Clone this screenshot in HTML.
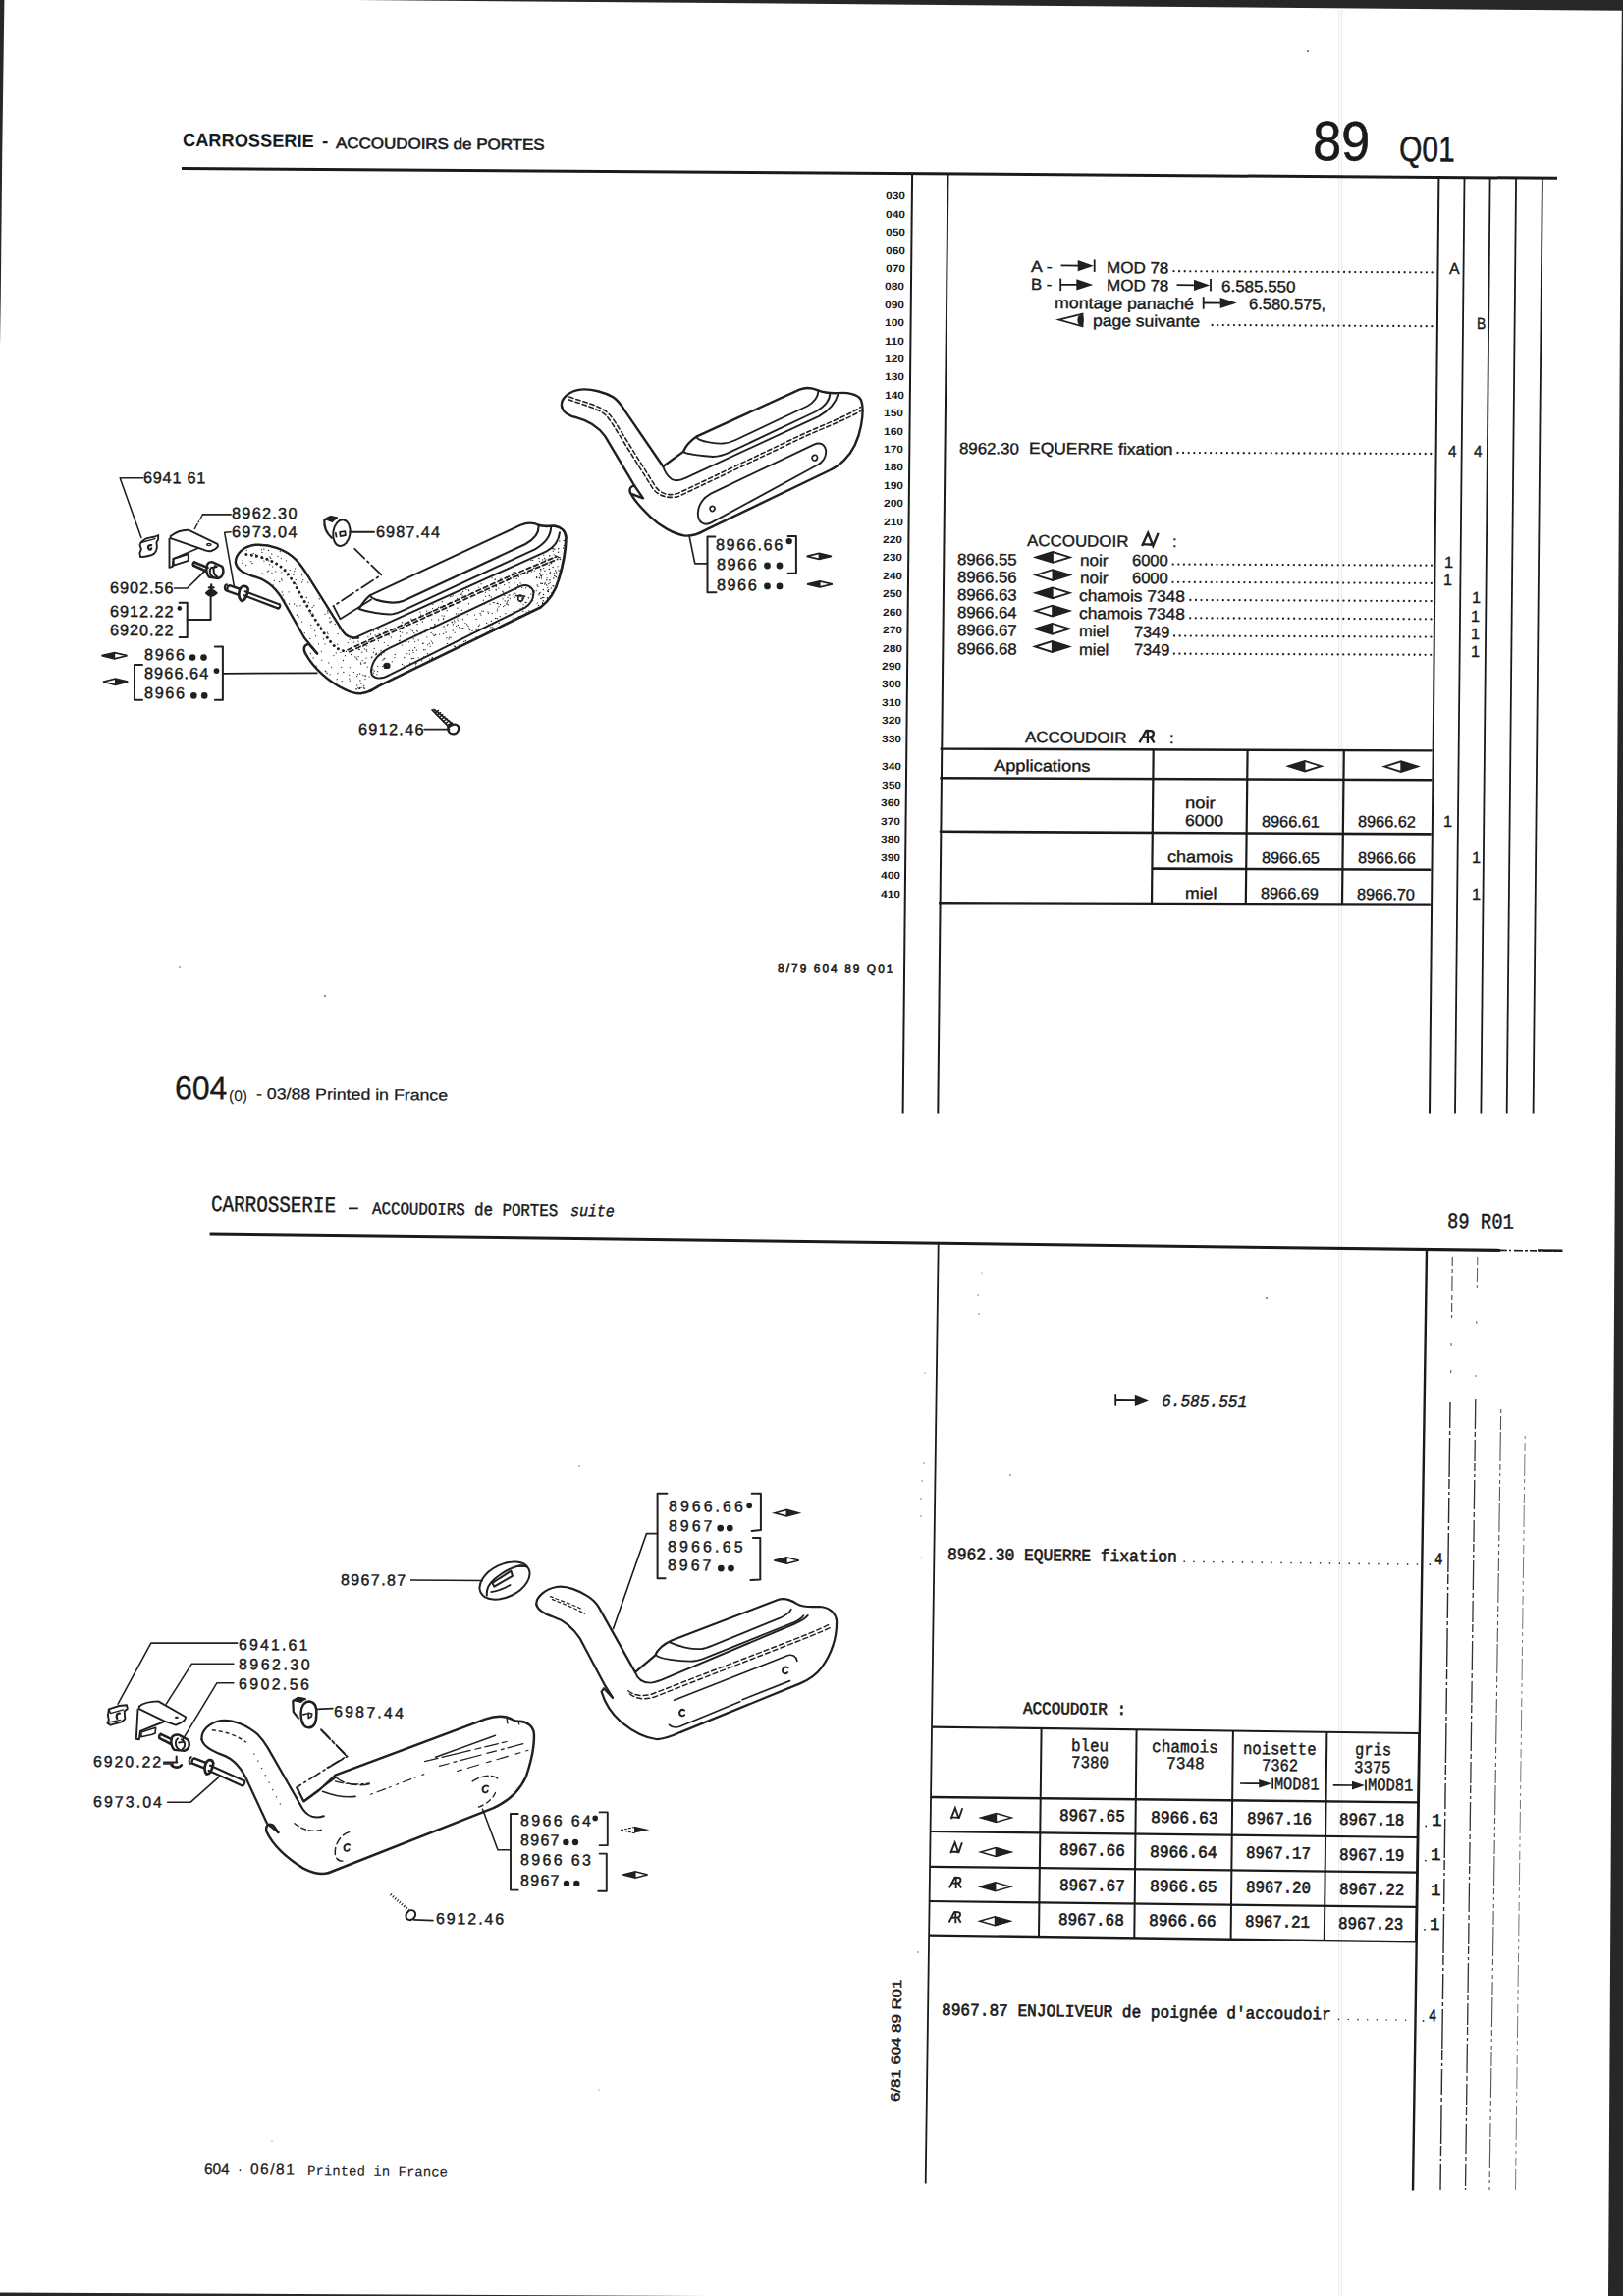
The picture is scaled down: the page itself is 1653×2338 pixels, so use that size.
<!DOCTYPE html>
<html><head><meta charset="utf-8"><title>89 Q01 / 89 R01 - CARROSSERIE - ACCOUDOIRS de PORTES</title>
<style>
html,body{margin:0;padding:0;background:#fff;}
body{width:1653px;height:2338px;position:relative;overflow:hidden;font-family:"Liberation Sans",sans-serif;color:#1a1a1a;}
.t{position:absolute;white-space:pre;line-height:1;font-family:"Liberation Sans",sans-serif;}
svg.g{position:absolute;left:0;top:0;}
</style></head><body>
<svg class="g" width="1653" height="2338" viewBox="0 0 1653 2338">
<polygon points="363,0 1653,0 1653,10.8" fill="#272727"/>
<polygon points="0,0 4.4,0 2.2,160 0.8,300 0,352" fill="#272727"/>
<polygon points="1653,0 1651.8,10.8 1644.8,1200 1638,2338 1653,2338" fill="#272727"/>
<polygon points="0,2334.5 0,2338 720,2338 400,2336.6" fill="#272727"/>
<line x1="1363.7" y1="10.0" x2="1363.7" y2="2338.0" stroke="#efefef" stroke-width="1.5" />
<line x1="1366.6" y1="10.0" x2="1366.6" y2="2338.0" stroke="#eeeeee" stroke-width="1.5" />
<circle cx="1332" cy="52" r="1.0" fill="#555"/>
<circle cx="183" cy="985" r="0.8" fill="#555"/>
<circle cx="331" cy="1014" r="0.9" fill="#555"/>
<circle cx="1290" cy="1322" r="0.9" fill="#555"/>
<circle cx="997" cy="1338" r="0.7" fill="#555"/>
<circle cx="996" cy="1319" r="0.7" fill="#555"/>
<circle cx="1000" cy="1296" r="0.6" fill="#555"/>
<circle cx="942" cy="1398" r="0.6" fill="#555"/>
<circle cx="941" cy="1490" r="0.7" fill="#555"/>
<circle cx="939" cy="1508" r="0.7" fill="#555"/>
<circle cx="938" cy="1526" r="0.7" fill="#555"/>
<circle cx="938" cy="1544" r="0.7" fill="#555"/>
<circle cx="938" cy="1586" r="0.6" fill="#555"/>
<circle cx="590" cy="1493" r="0.7" fill="#555"/>
<circle cx="1029" cy="1502" r="0.8" fill="#555"/>
<circle cx="935" cy="1988" r="0.7" fill="#555"/>
<circle cx="277" cy="2180" r="0.6" fill="#555"/>
<circle cx="610" cy="2128" r="0.6" fill="#555"/>
<line x1="185.0" y1="171.6" x2="1586.0" y2="181.3" stroke="#1a1a1a" stroke-width="3.0" />
<line x1="929.1" y1="177.0" x2="919.6" y2="1133.5" stroke="#1a1a1a" stroke-width="2.0" />
<line x1="965.5" y1="177.3" x2="955.3" y2="1133.5" stroke="#1a1a1a" stroke-width="2.0" />
<line x1="1465.4" y1="180.5" x2="1456.0" y2="1133.5" stroke="#1a1a1a" stroke-width="2.0" />
<line x1="1491.5" y1="180.7" x2="1482.0" y2="1133.5" stroke="#1a1a1a" stroke-width="1.8" />
<line x1="1517.6" y1="180.9" x2="1508.4" y2="1133.5" stroke="#1a1a1a" stroke-width="1.8" />
<line x1="1544.1" y1="181.0" x2="1534.7" y2="1133.5" stroke="#1a1a1a" stroke-width="1.8" />
<line x1="1570.9" y1="181.2" x2="1561.6" y2="1133.5" stroke="#1a1a1a" stroke-width="1.8" />
<line x1="1080.6" y1="270.4" x2="1100.7" y2="270.6" stroke="#1a1a1a" stroke-width="1.8" />
<polygon points="1097.7,265.1 1113.9,270.7 1097.7,276.3" fill="#202020"/>
<line x1="1114.7" y1="264.4" x2="1114.7" y2="276.9" stroke="#1a1a1a" stroke-width="1.8" />
<line x1="1195.5" y1="276.2" x2="1458.7" y2="277.4" stroke="#202020" stroke-width="2.3" stroke-linecap="round" stroke-dasharray="0 5.598"/>
<line x1="1080.2" y1="283.6" x2="1080.2" y2="296.1" stroke="#1a1a1a" stroke-width="1.8" />
<line x1="1080.2" y1="289.8" x2="1099.3" y2="289.9" stroke="#1a1a1a" stroke-width="1.8" />
<polygon points="1096.3,284.2 1113.3,289.9 1096.3,295.4" fill="#202020"/>
<line x1="1198.6" y1="290.1" x2="1219.0" y2="290.3" stroke="#1a1a1a" stroke-width="1.8" />
<polygon points="1216.0,284.8 1232.2,290.4 1216.0,296.0" fill="#202020"/>
<line x1="1233.0" y1="284.1" x2="1233.0" y2="296.6" stroke="#1a1a1a" stroke-width="1.8" />
<line x1="1225.7" y1="302.2" x2="1225.7" y2="314.8" stroke="#1a1a1a" stroke-width="1.8" />
<line x1="1225.7" y1="308.5" x2="1245.7" y2="308.7" stroke="#1a1a1a" stroke-width="1.8" />
<polygon points="1242.7,302.9 1259.7,308.6 1242.7,314.1" fill="#202020"/>
<path d="M1078.3,325.6 L1102.6,319.6 L1102.6,332.4 Z" fill="none" stroke="#202020" stroke-width="1.7" stroke-linejoin="miter"/>
<ellipse cx="1100.6" cy="326" rx="3.2" ry="5.2" fill="#202020"/>
<line x1="1234.6" y1="331.0" x2="1458.5" y2="332.2" stroke="#202020" stroke-width="2.3" stroke-linecap="round" stroke-dasharray="0 5.595"/>
<line x1="1199.5" y1="461.0" x2="1457.4" y2="462.0" stroke="#202020" stroke-width="2.3" stroke-linecap="round" stroke-dasharray="0 5.604"/>
<path d="M1163.1,556.1 L1169.2,542.8 L1174.4,555.7 L1179.6,542.9 M1164.5,554.1 L1173.9,554.7" fill="none" stroke="#202020" stroke-width="2.4" stroke-linejoin="miter" stroke-miterlimit="3"/>
<polygon points="1055.0,567.4 1072.3,562.0 1089.6,567.4 1072.3,572.8" fill="none" stroke="#202020" stroke-width="1.9" stroke-linejoin="miter"/>
<polygon points="1053.9,567.4 1072.9,561.6 1072.9,573.2" fill="#202020"/>
<line x1="1194.7" y1="574.6" x2="1458.1" y2="575.7" stroke="#202020" stroke-width="2.3" stroke-linecap="round" stroke-dasharray="0 5.602"/>
<polygon points="1054.8,585.6 1072.1,580.2 1089.5,585.6 1072.1,591.0" fill="none" stroke="#202020" stroke-width="1.9" stroke-linejoin="miter"/>
<polygon points="1090.6,585.6 1071.5,579.8 1071.5,591.4" fill="#202020"/>
<line x1="1194.5" y1="592.8" x2="1457.9" y2="593.9" stroke="#202020" stroke-width="2.3" stroke-linecap="round" stroke-dasharray="0 5.602"/>
<polygon points="1054.7,603.8 1072.0,598.4 1089.3,603.8 1072.0,609.2" fill="none" stroke="#202020" stroke-width="1.9" stroke-linejoin="miter"/>
<polygon points="1053.5,603.8 1072.6,598.1 1072.6,609.6" fill="#202020"/>
<line x1="1212.4" y1="611.0" x2="1457.8" y2="612.1" stroke="#202020" stroke-width="2.3" stroke-linecap="round" stroke-dasharray="0 5.575"/>
<polygon points="1054.5,622.1 1071.8,616.7 1089.1,622.1 1071.8,627.5" fill="none" stroke="#202020" stroke-width="1.9" stroke-linejoin="miter"/>
<polygon points="1090.3,622.1 1071.2,616.3 1071.2,627.8" fill="#202020"/>
<line x1="1212.2" y1="629.3" x2="1457.6" y2="630.4" stroke="#202020" stroke-width="2.3" stroke-linecap="round" stroke-dasharray="0 5.575"/>
<polygon points="1054.4,640.3 1071.7,634.9 1089.0,640.3 1071.7,645.7" fill="none" stroke="#202020" stroke-width="1.9" stroke-linejoin="miter"/>
<polygon points="1053.2,640.3 1072.3,634.5 1072.3,646.1" fill="#202020"/>
<line x1="1196.1" y1="647.5" x2="1457.5" y2="648.6" stroke="#202020" stroke-width="2.3" stroke-linecap="round" stroke-dasharray="0 5.560"/>
<polygon points="1054.2,658.5 1071.5,653.1 1088.8,658.5 1071.5,663.9" fill="none" stroke="#202020" stroke-width="1.9" stroke-linejoin="miter"/>
<polygon points="1090.0,658.5 1070.9,652.7 1070.9,664.3" fill="#202020"/>
<line x1="1195.9" y1="665.7" x2="1457.3" y2="666.8" stroke="#202020" stroke-width="2.3" stroke-linecap="round" stroke-dasharray="0 5.560"/>
<path d="M1160.4,756.3 L1167.4,743.9 L1172.4,744.1 Q1175.2,744.7 1174.8,747.3 Q1174.6,750.3 1170.9,750.6 L1164.0,750.7 M1168.9,743.9 L1168.9,757.1 M1171.8,750.6 L1175.6,756.5" fill="none" stroke="#202020" stroke-width="2.3" stroke-linejoin="round"/>
<line x1="957.6" y1="762.6" x2="1458.6" y2="764.4" stroke="#1a1a1a" stroke-width="2.4" />
<line x1="957.3" y1="792.2" x2="1458.3" y2="794.2" stroke="#1a1a1a" stroke-width="2.6" />
<line x1="956.8" y1="846.8" x2="1457.7" y2="849.4" stroke="#1a1a1a" stroke-width="2.6" />
<line x1="1173.6" y1="884.6" x2="1457.3" y2="885.8" stroke="#1a1a1a" stroke-width="2.6" />
<line x1="956.0" y1="920.2" x2="1456.9" y2="921.6" stroke="#1a1a1a" stroke-width="2.4" />
<line x1="1174.7" y1="763.0" x2="1173.0" y2="921.0" stroke="#1a1a1a" stroke-width="2.2" />
<line x1="1270.6" y1="763.5" x2="1268.8" y2="921.2" stroke="#1a1a1a" stroke-width="2.2" />
<line x1="1368.8" y1="764.0" x2="1367.0" y2="921.4" stroke="#1a1a1a" stroke-width="2.2" />
<polygon points="1312.3,780.2 1329.0,774.9 1345.6,780.2 1329.0,785.5" fill="none" stroke="#202020" stroke-width="1.9" stroke-linejoin="miter"/>
<polygon points="1311.2,780.2 1329.5,774.5 1329.5,785.9" fill="#202020"/>
<polygon points="1410.1,780.6 1426.9,775.3 1443.7,780.6 1426.9,785.9" fill="none" stroke="#202020" stroke-width="1.9" stroke-linejoin="miter"/>
<polygon points="1444.8,780.6 1426.3,774.9 1426.3,786.3" fill="#202020"/>
<line x1="213.6" y1="1256.9" x2="1528.0" y2="1273.4" stroke="#1a1a1a" stroke-width="3.0" />
<line x1="1528.0" y1="1273.4" x2="1591.3" y2="1274.2" stroke="#1a1a1a" stroke-width="1.6" stroke-dasharray="7 2 2 3 9 2 3 2"/>
<line x1="1566.0" y1="1273.4" x2="1591.3" y2="1273.7" stroke="#1a1a1a" stroke-width="2.4" />
<line x1="955.7" y1="1267.0" x2="942.7" y2="2223.6" stroke="#1a1a1a" stroke-width="1.8" />
<line x1="1453.0" y1="1273.0" x2="1439.0" y2="2230.6" stroke="#1a1a1a" stroke-width="2.4" />
<line x1="1479.3" y1="1280.0" x2="1478.5" y2="1342.0" stroke="#555" stroke-width="1.2" stroke-dasharray="9 3 4 3 16 4 5 3"/>
<line x1="1478.1" y1="1368.0" x2="1477.6" y2="1400.0" stroke="#666" stroke-width="1.2" stroke-dasharray="3 24 3 30"/>
<line x1="1477.0" y1="1428.0" x2="1467.0" y2="2230.0" stroke="#2a2a2a" stroke-width="1.4" stroke-dasharray="26 3 4 3 40 2 10 3 3 3"/>
<line x1="1504.8" y1="1280.0" x2="1504.3" y2="1312.0" stroke="#666" stroke-width="1.1" stroke-dasharray="8 3 14 4"/>
<line x1="1503.8" y1="1345.0" x2="1503.1" y2="1402.0" stroke="#777" stroke-width="1.1" stroke-dasharray="3 52 3 30"/>
<line x1="1502.8" y1="1425.0" x2="1492.5" y2="2230.0" stroke="#333" stroke-width="1.3" stroke-dasharray="30 3 5 3 22 2 8 3 3 3"/>
<line x1="1528.7" y1="1435.0" x2="1517.0" y2="2230.0" stroke="#555" stroke-width="1.1" stroke-dasharray="4 3 14 2 30 3 6 3 3 4"/>
<line x1="1553.2" y1="1462.0" x2="1543.5" y2="2230.0" stroke="#777" stroke-width="1.0" stroke-dasharray="3 4 9 3 22 3 4 4"/>
<line x1="355.0" y1="1230.3" x2="364.8" y2="1230.4" stroke="#1a1a1a" stroke-width="1.8" />
<line x1="1136.2" y1="1420.2" x2="1136.2" y2="1431.6" stroke="#1a1a1a" stroke-width="1.8" />
<line x1="1136.2" y1="1426.0" x2="1158.0" y2="1426.2" stroke="#1a1a1a" stroke-width="1.8" />
<polygon points="1155.8,1420.8 1170,1426.4 1155.8,1432" fill="#202020"/>
<line x1="1206.2" y1="1590.2" x2="1443.6" y2="1593.0" stroke="#333" stroke-width="1.7" stroke-linecap="round" stroke-dasharray="0 9.887"/>
<line x1="1456.3" y1="1593.2" x2="1456.5" y2="1593.2" stroke="#202020" stroke-width="1.8" stroke-linecap="round" stroke-dasharray="0 5.570"/>
<line x1="949.3" y1="1758.6" x2="1445.2" y2="1765.0" stroke="#1a1a1a" stroke-width="2.2" />
<line x1="948.2" y1="1830.0" x2="1444.2" y2="1835.4" stroke="#1a1a1a" stroke-width="2.4" />
<line x1="947.7" y1="1865.0" x2="1443.7" y2="1871.0" stroke="#1a1a1a" stroke-width="2.2" />
<line x1="947.2" y1="1900.9" x2="1443.2" y2="1906.6" stroke="#1a1a1a" stroke-width="2.2" />
<line x1="946.7" y1="1936.0" x2="1442.7" y2="1941.8" stroke="#1a1a1a" stroke-width="2.2" />
<line x1="946.0" y1="1970.6" x2="1442.0" y2="1977.4" stroke="#1a1a1a" stroke-width="2.4" />
<line x1="1060.6" y1="1760.0" x2="1058.0" y2="1972.0" stroke="#1a1a1a" stroke-width="2.0" />
<line x1="1157.6" y1="1761.0" x2="1155.3" y2="1973.4" stroke="#1a1a1a" stroke-width="2.0" />
<line x1="1255.9" y1="1762.4" x2="1253.6" y2="1974.8" stroke="#1a1a1a" stroke-width="2.0" />
<line x1="1351.4" y1="1763.6" x2="1348.8" y2="1976.0" stroke="#1a1a1a" stroke-width="2.0" />
<line x1="1445.2" y1="1765.0" x2="1442.0" y2="1977.4" stroke="#1a1a1a" stroke-width="2.0" />
<line x1="1263.0" y1="1816.0" x2="1284.2" y2="1816.2" stroke="#1a1a1a" stroke-width="1.7" />
<polygon points="1282.2,1812.0 1295.2,1816.3 1282.2,1820.6" fill="#202020"/>
<line x1="1296.2" y1="1810.7" x2="1296.2" y2="1821.7" stroke="#1a1a1a" stroke-width="1.7" />
<line x1="1357.8" y1="1817.8" x2="1379.0" y2="1818.0" stroke="#1a1a1a" stroke-width="1.7" />
<polygon points="1377.0,1813.8 1390.0,1818.1 1377.0,1822.4" fill="#202020"/>
<line x1="1391.0" y1="1812.5" x2="1391.0" y2="1823.5" stroke="#1a1a1a" stroke-width="1.7" />
<path d="M968.6,1852.1 L972.9,1841.1 L976.6,1851.8 L980.3,1841.2 M969.6,1850.4 L976.3,1850.9" fill="none" stroke="#202020" stroke-width="1.9" stroke-linejoin="miter" stroke-miterlimit="3"/>
<polygon points="999.0,1850.9 1014.6,1846.5 1030.1,1850.9 1014.6,1855.4" fill="none" stroke="#202020" stroke-width="1.5" stroke-linejoin="miter"/>
<polygon points="998.1,1850.9 1015.2,1846.2 1015.2,1855.7" fill="#202020"/>
<line x1="1452.2" y1="1859.5" x2="1452.4" y2="1859.5" stroke="#202020" stroke-width="1.8" stroke-linecap="round" stroke-dasharray="0 5.570"/>
<path d="M968.2,1887.2 L972.6,1876.2 L976.3,1886.9 L979.9,1876.3 M969.2,1885.5 L975.9,1886.0" fill="none" stroke="#202020" stroke-width="1.9" stroke-linejoin="miter" stroke-miterlimit="3"/>
<polygon points="998.7,1886.0 1014.2,1881.5 1029.8,1886.0 1014.2,1890.5" fill="none" stroke="#202020" stroke-width="1.5" stroke-linejoin="miter"/>
<polygon points="1030.7,1886.0 1013.6,1881.2 1013.6,1890.8" fill="#202020"/>
<line x1="1451.8" y1="1894.6" x2="1452.0" y2="1894.6" stroke="#202020" stroke-width="1.8" stroke-linecap="round" stroke-dasharray="0 5.570"/>
<path d="M967.0,1922.4 L972.5,1911.8 L976.5,1912.0 Q978.7,1912.5 978.4,1914.7 Q978.2,1917.3 975.3,1917.5 L969.9,1917.6 M973.7,1911.8 L973.7,1923.1 M976.0,1917.5 L979.0,1922.6" fill="none" stroke="#202020" stroke-width="1.9" stroke-linejoin="round"/>
<polygon points="998.3,1921.2 1013.8,1916.8 1029.4,1921.2 1013.8,1925.7" fill="none" stroke="#202020" stroke-width="1.5" stroke-linejoin="miter"/>
<polygon points="997.4,1921.2 1014.4,1916.5 1014.4,1926.0" fill="#202020"/>
<path d="M966.6,1957.5 L972.1,1946.9 L976.1,1947.1 Q978.3,1947.6 978.0,1949.8 Q977.8,1952.4 974.9,1952.6 L969.5,1952.7 M973.3,1946.9 L973.3,1958.2 M975.6,1952.6 L978.6,1957.7" fill="none" stroke="#202020" stroke-width="1.9" stroke-linejoin="round"/>
<polygon points="997.9,1956.3 1013.4,1951.9 1029.0,1956.3 1013.4,1960.8" fill="none" stroke="#202020" stroke-width="1.5" stroke-linejoin="miter"/>
<polygon points="1029.9,1956.3 1012.8,1951.6 1012.8,1961.1" fill="#202020"/>
<line x1="1451.0" y1="1964.9" x2="1451.2" y2="1964.9" stroke="#202020" stroke-width="1.8" stroke-linecap="round" stroke-dasharray="0 5.570"/>
<line x1="1363.5" y1="2056.4" x2="1431.7" y2="2057.2" stroke="#333" stroke-width="1.6" stroke-linecap="round" stroke-dasharray="0 9.729"/>
<line x1="1449.6" y1="2058.0" x2="1449.8" y2="2058.0" stroke="#202020" stroke-width="1.8" stroke-linecap="round" stroke-dasharray="0 5.570"/>
<line x1="244.5" y1="2210.2" x2="244.7" y2="2210.2" stroke="#202020" stroke-width="1.8" stroke-linecap="round" stroke-dasharray="0 5.570"/>
<path d="M 572.2 414.5 C 570.3 406.6 578.7 398.1 591.5 396.6 C 602.4 395.4 616.2 399.7 624.1 404.1 C 629.4 407.2 632.6 411.9 636.5 418.4 L 675.3 475.0 L 696.0 459.9 C 697.6 455.9 702.4 449.4 709.8 444.3 L 814.3 396.6 C 820.3 394.2 826.2 394.2 833.1 397.4 C 840.0 400.1 845.9 400.5 853.8 400.1 C 863.6 399.3 873.5 401.3 876.6 406.6 C 879.4 412.5 879.0 422.4 877.0 433.2 C 874.5 447.0 869.5 458.9 859.7 468.7 C 854.8 473.7 849.8 476.6 844.9 479.0 L 717.7 540.1 C 711.8 543.6 704.9 546.0 698.0 545.6 C 686.2 544.0 672.4 535.8 662.5 526.3 C 652.7 517.0 645.2 508.2 642.0 501.8 C 640.4 497.5 642.8 494.7 646.4 494.9" fill="none" stroke="#202020" stroke-width="2.41" stroke-linecap="round" stroke-linejoin="round" />
<path d="M 572.2 414.5 C 573.4 419.4 578.7 423.4 587.6 425.3 C 599.4 428.3 608.3 433.2 616.2 444.1 L 646.4 494.9 L 655.0 507.4 L 643.6 503.2" fill="none" stroke="#202020" stroke-width="2.41" stroke-linecap="round" stroke-linejoin="round" />
<path d="M 675.3 475.0 C 676.7 479.6 679.3 484.5 684.2 488.0 C 688.2 490.4 692.1 489.6 698.0 486.9 L 834.1 423.8 C 843.9 418.4 851.4 409.6 853.8 400.5" fill="none" stroke="#202020" stroke-width="1.9" stroke-linecap="round" stroke-linejoin="round" />
<path d="M 709.8 444.3 C 708.9 446.6 712.8 449.0 723.6 450.6 C 733.5 452.2 740.4 452.2 749.3 448.0 L 822.2 413.5 C 829.1 409.6 834.1 403.3 833.1 397.4" fill="none" stroke="#202020" stroke-width="1.9" stroke-linecap="round" stroke-linejoin="round" />
<path d="M 696.0 459.9 C 698.0 462.4 709.8 463.6 723.6 464.8 C 731.5 465.6 736.5 463.8 743.4 460.4 L 831.1 419.0 C 840.0 413.9 845.5 407.6 845.3 400.1" fill="none" stroke="#202020" stroke-width="1.9" stroke-linecap="round" stroke-linejoin="round" />
<path d="M 579.7 404.1 C 595.5 409.6 611.3 413.1 619.1 420.4 C 625.1 426.3 629.0 434.2 634.9 443.1 L 667.5 495.3 C 672.4 502.2 680.3 505.4 690.1 502.6 L 816.3 442.7 C 836.0 433.6 863.6 423.4 876.6 414.5" fill="none" stroke="#202020" stroke-width="1.57" stroke-linecap="round" stroke-linejoin="round" stroke-dasharray="4.4 3"/>
<path d="M 578.9 406.8 C 594.5 412.3 609.3 415.9 616.8 422.6 C 622.3 428.5 626.6 436.4 632.2 445.1 L 664.9 497.5 C 670.4 505.0 680.7 508.2 691.3 505.4 L 817.5 445.5 C 837.2 436.4 864.8 426.1 877.4 417.9" fill="none" stroke="#202020" stroke-width="1.57" stroke-linecap="round" stroke-linejoin="round" stroke-dasharray="4.4 3"/>
<path d="M 710.8 522.4 C 711.4 514.1 715.8 507.2 724.0 502.6 L 829.1 452.6 C 835.0 450.0 840.0 452.0 841.2 458.9 C 841.5 465.8 838.0 470.7 832.5 473.5 L 724.6 532.2 C 717.7 535.8 710.8 532.8 710.8 522.4 Z" fill="none" stroke="#202020" stroke-width="1.9" stroke-linecap="round" stroke-linejoin="round" />
<path d="M 722.9 518.0 C 723.2 515.1 727.2 514.1 728.0 517.2 C 728.4 520.4 724.4 522.4 722.9 518.0 Z" fill="none" stroke="#202020" stroke-width="1.68" stroke-linecap="round" stroke-linejoin="round" />
<path d="M 827.0 466.4 C 827.4 462.8 831.7 462.0 832.5 465.6 C 832.9 469.1 828.1 470.7 827.0 466.4 Z" fill="none" stroke="#202020" stroke-width="1.68" stroke-linecap="round" stroke-linejoin="round" />
<path d="M 240.0 573.1 C 239.5 564.5 247.9 555.8 260.2 554.8 C 275.0 553.9 291.0 559.5 300.9 569.4 C 308.3 576.8 312.0 584.2 316.9 591.6 L 348.9 642.6 C 352.6 648.3 358.8 650.0 364.9 649.5" fill="none" stroke="#202020" stroke-width="2.41" stroke-linecap="round" stroke-linejoin="round" />
<path d="M 240.0 573.1 C 241.0 580.0 250.3 584.9 261.4 587.9 C 273.8 591.6 282.4 600.2 289.8 613.8 L 310.0 649.5 L 323.0 665.5" fill="none" stroke="#202020" stroke-width="2.41" stroke-linecap="round" stroke-linejoin="round" />
<path d="M 323.0 665.5 L 314.4 655.7 C 309.5 656.9 308.3 660.6 311.5 666.2 C 319.3 680.3 334.1 693.9 351.4 702.2 C 357.5 705.4 362.5 706.4 367.4 706.2 C 371.1 705.7 374.8 704.7 378.5 703.2" fill="none" stroke="#202020" stroke-width="2.46" stroke-linecap="round" stroke-linejoin="round" />
<path d="M 250.8 564.5 C 267.6 566.2 282.4 571.9 292.2 582.9 C 299.6 592.8 305.8 605.1 314.4 619.9 C 321.8 632.2 329.2 644.6 337.8 654.9 C 342.8 660.6 346.5 663.0 353.9 663.0" fill="none" stroke="#202020" stroke-width="2.91" stroke-linecap="round" stroke-linejoin="round" stroke-dasharray="0.1 5.3"/>
<path d="M 360.0 650.1 L 556.7 561.4 C 564.8 557.0 569.2 550.3 570.0 542.2" fill="none" stroke="#202020" stroke-width="2.02" stroke-linecap="round" stroke-linejoin="round" />
<path d="M 377.0 606.1 L 530.1 534.8 C 536.7 532.1 544.1 532.4 548.5 534.8 C 549.3 542.2 544.8 548.8 535.2 554.0 L 411.0 611.7 C 404.4 614.6 394.0 613.8 383.7 610.9 C 380.0 609.6 377.4 608.0 377.0 606.1 Z" fill="none" stroke="#202020" stroke-width="2.13" stroke-linecap="round" stroke-linejoin="round" />
<path d="M 377.0 606.1 C 372.6 609.5 368.9 614.6 365.6 620.0 C 374.8 623.2 389.6 625.9 399.9 625.3 C 404.4 624.7 407.3 623.2 411.0 621.4 L 544.8 559.3 C 555.2 553.3 560.8 545.1 561.1 537.2" fill="none" stroke="#202020" stroke-width="2.02" stroke-linecap="round" stroke-linejoin="round" />
<path d="M 548.5 534.8 C 553.7 536.6 559.6 535.4 564.8 535.7 C 571.5 536.6 576.2 540.7 576.5 547.4 C 576.2 559.9 573.7 574.7 569.2 589.5 C 566.3 599.9 561.1 610.2 550.8 618.3 L 385.1 698.9 C 382.2 700.7 380.0 702.2 376.6 703.4" fill="none" stroke="#202020" stroke-width="2.69" stroke-linecap="round" stroke-linejoin="round" />
<path d="M 378.0 683.4 C 378.9 673.8 385.1 665.7 396.2 660.2 L 530.1 596.9 C 536.7 594.2 543.1 597.6 543.4 604.3 C 543.1 610.9 539.7 615.8 534.5 618.8 L 397.0 687.1 C 389.6 691.5 378.5 693.0 378.0 683.4 Z" fill="none" stroke="#202020" stroke-width="2.02" stroke-linecap="round" stroke-linejoin="round" />
<ellipse cx="394.0" cy="677.9" rx="3.6" ry="3.2" fill="#202020"/>
<path d="M 527.8 607.2 C 530.1 605.0 533.8 606.5 533.0 609.5 C 532.3 612.4 528.6 613.2 527.8 610.2 Z M 525.6 606.5 L 534.5 607.2" fill="none" stroke="#202020" stroke-width="1.68" stroke-linecap="round" stroke-linejoin="round" />
<path d="M 354.1 661.7 L 522.7 585.1 L 567.0 566.6" fill="none" stroke="#202020" stroke-width="1.79" stroke-linecap="round" stroke-linejoin="round" stroke-dasharray="4.5 3.5"/>
<path d="M 355.6 663.7 L 523.4 587.7 L 567.8 569.4" fill="none" stroke="#202020" stroke-width="1.79" stroke-linecap="round" stroke-linejoin="round" stroke-dasharray="4.5 3.5"/>
<path d="M 361.2 558.8 L 388.4 585.4 L 339.6 617.0" fill="none" stroke="#202020" stroke-width="1.79" stroke-linecap="round" stroke-linejoin="round" stroke-dasharray="14 4 2 4"/>
<path d="M 339.6 617.0 L 346.5 630.3 L 378.0 610.5" fill="none" stroke="#202020" stroke-width="1.79" stroke-linecap="round" stroke-linejoin="round" />
<circle cx="182.8" cy="619.4" r="2.3" fill="#202020"/>
<circle cx="196.1" cy="669.6" r="3.3" fill="#202020"/>
<circle cx="207.5" cy="669.6" r="3.3" fill="#202020"/>
<circle cx="220.5" cy="683.1" r="2.9" fill="#202020"/>
<circle cx="197.3" cy="708.4" r="3.3" fill="#202020"/>
<circle cx="208.2" cy="708.4" r="3.3" fill="#202020"/>
<circle cx="803.7" cy="551.1" r="3.2" fill="#202020"/>
<circle cx="781.5" cy="576.0" r="3.4" fill="#202020"/>
<circle cx="794.0" cy="576.0" r="3.4" fill="#202020"/>
<circle cx="781.5" cy="596.9" r="3.4" fill="#202020"/>
<circle cx="794.0" cy="596.9" r="3.4" fill="#202020"/>
<path d="M 728.3 546.6 L 720.5 546.6 L 720.5 603.2 L 729.4 603.2" fill="none" stroke="#202020" stroke-width="2.02" stroke-linecap="round" stroke-linejoin="round" />
<path d="M 802.6 546.1 L 810.9 546.1 L 810.9 583.8 L 802.6 583.8" fill="none" stroke="#202020" stroke-width="2.02" stroke-linecap="round" stroke-linejoin="round" />
<path d="M 702.2 546.6 L 707.8 573.8 L 720.5 573.8" fill="none" stroke="#202020" stroke-width="1.68" stroke-linecap="round" stroke-linejoin="round" />
<polygon points="821.7,566.4 834.2,563.4 846.7,566.4 834.2,569.4" fill="none" stroke="#202020" stroke-width="1.7" stroke-linejoin="miter"/>
<polygon points="847.8,566.4 833.6,563.0 833.6,569.8" fill="#202020"/>
<polygon points="822.2,594.9 835.0,591.9 847.8,594.9 835.0,597.9" fill="none" stroke="#202020" stroke-width="1.7" stroke-linejoin="miter"/>
<polygon points="821.1,594.9 835.6,591.5 835.6,598.3" fill="#202020"/>
<path d="M 218.9 658.5 L 226.9 658.5 L 226.9 712.7 L 218.9 712.7" fill="none" stroke="#202020" stroke-width="2.02" stroke-linecap="round" stroke-linejoin="round" />
<path d="M 145.0 677.0 L 137.0 677.0 L 137.0 712.7 L 145.0 712.7" fill="none" stroke="#202020" stroke-width="2.02" stroke-linecap="round" stroke-linejoin="round" />
<line x1="227.5" y1="685.8" x2="323.5" y2="685.3" stroke="#1a1a1a" stroke-width="1.7" />
<path d="M 182.6 613.8 L 190.7 613.8 L 190.7 649.0 L 182.6 649.0" fill="none" stroke="#202020" stroke-width="2.02" stroke-linecap="round" stroke-linejoin="round" />
<path d="M 190.7 631.0 L 214.6 631.0 L 214.6 608.1" fill="none" stroke="#202020" stroke-width="2.02" stroke-linecap="round" stroke-linejoin="round" />
<path d="M 145.6 486.8 L 122.2 486.8 L 143.9 547.5" fill="none" stroke="#202020" stroke-width="1.57" stroke-linecap="round" stroke-linejoin="round" />
<path d="M 235.1 523.8 L 206.5 523.8" fill="none" stroke="#202020" stroke-width="1.68" stroke-linecap="round" stroke-linejoin="round" />
<path d="M 206.5 523.8 L 197.6 539.8" fill="none" stroke="#202020" stroke-width="1.34" stroke-linecap="round" stroke-linejoin="round" stroke-dasharray="6 2 1 2"/>
<path d="M 235.1 541.8 L 228.7 542.3 L 238.5 597.7" fill="none" stroke="#202020" stroke-width="1.57" stroke-linecap="round" stroke-linejoin="round" />
<path d="M 356.3 541.8 L 381.0 541.8" fill="none" stroke="#202020" stroke-width="1.9" stroke-linecap="round" stroke-linejoin="round" />
<path d="M 177.6 599.0 L 190.7 599.0 L 208.4 581.7" fill="none" stroke="#202020" stroke-width="1.68" stroke-linecap="round" stroke-linejoin="round" />
<path d="M 432.2 742.6 L 457.4 742.6" fill="none" stroke="#202020" stroke-width="1.9" stroke-linecap="round" stroke-linejoin="round" />
<polygon points="103.7,667.7 116.6,664.6 129.5,667.7 116.6,670.9" fill="none" stroke="#202020" stroke-width="1.7" stroke-linejoin="miter"/>
<polygon points="102.6,667.7 117.2,664.2 117.2,671.2" fill="#202020"/>
<polygon points="105.0,694.2 117.5,691.1 130.1,694.2 117.5,697.4" fill="none" stroke="#202020" stroke-width="1.7" stroke-linejoin="miter"/>
<polygon points="131.2,694.2 117.0,690.7 117.0,697.7" fill="#202020"/>
<path d="M 142.5 554.8 C 143.1 551.4 147.4 548.3 153.0 547.4 L 157.9 546.5 L 161.2 545.0 L 161.1 549.6 L 159.4 552.3 C 160.4 557.0 159.8 561.3 156.9 563.9 C 153.0 566.2 148.1 566.8 143.1 567.1 L 142.4 563.1 L 143.9 559.4 Z" fill="none" stroke="#202020" stroke-width="1.9" stroke-linecap="round" stroke-linejoin="round" />
<path d="M 154.2 555.1 C 151.1 554.5 149.9 557.6 151.8 559.2 C 153.0 560.0 154.2 559.2 154.2 558.4" fill="none" stroke="#202020" stroke-width="2.24" stroke-linecap="round" stroke-linejoin="round" />
<path d="M 144.4 552.3 L 157.9 548.6" fill="none" stroke="#202020" stroke-width="1.46" stroke-linecap="round" stroke-linejoin="round" />
<path d="M 173.7 545.9 C 178.9 541.9 186.3 539.5 191.8 539.7 L 221.4 553.9 C 223.0 556.0 221.4 558.8 215.2 561.0 C 212.1 561.7 209.7 560.7 207.2 559.7 L 173.7 548.1 Z" fill="none" stroke="#202020" stroke-width="1.9" stroke-linecap="round" stroke-linejoin="round" />
<path d="M 172.5 548.6 L 172.5 577.9 L 175.7 576.9 L 176.4 569.0 L 191.8 564.1 L 191.8 570.8 L 177.0 575.7 L 176.6 569.3" fill="none" stroke="#202020" stroke-width="1.9" stroke-linecap="round" stroke-linejoin="round" />
<path d="M 176.4 569.0 L 202.3 558.0" fill="none" stroke="#202020" stroke-width="1.79" stroke-linecap="round" stroke-linejoin="round" />
<ellipse cx="212.8" cy="554.5" rx="2.2" ry="1.1" fill="none" stroke="#202020" stroke-width="1.3"/>
<path d="M 198.0 572.4 L 211.5 577.9 M 197.1 575.7 L 209.7 581.4" fill="none" stroke="#202020" stroke-width="2.69" stroke-linecap="round" stroke-linejoin="round" />
<path d="M 198.0 572.4 C 196.4 573.0 196.1 574.8 197.1 575.7" fill="none" stroke="#202020" stroke-width="2.24" stroke-linecap="round" stroke-linejoin="round" />
<path d="M 211.5 574.2 C 209.7 577.9 209.7 584.1 212.8 587.5 L 222.0 589.0 C 226.9 588.4 228.8 581.6 226.3 576.9 L 216.5 572.4 C 214.0 571.8 212.4 572.7 211.5 574.2 Z" fill="none" stroke="#202020" stroke-width="2.46" stroke-linecap="round" stroke-linejoin="round" />
<path d="M 215.2 577.9 C 212.8 580.4 213.4 585.3 216.5 587.2 M 218.9 576.1 C 216.5 579.1 217.1 585.3 221.4 587.5 M 215.8 577.9 L 220.8 576.9" fill="none" stroke="#202020" stroke-width="2.02" stroke-linecap="round" stroke-linejoin="round" />
<path d="M 215.2 595.4 L 215.2 600.1 M 212.8 598.3 L 217.7 598.3" fill="none" stroke="#202020" stroke-width="2.24" stroke-linecap="round" stroke-linejoin="round" />
<path d="M 209.7 604.0 C 211.5 601.9 213.4 600.7 215.2 600.3 C 217.1 600.7 219.3 601.9 221.0 604.0 C 218.9 606.0 217.1 607.0 215.2 607.2 C 213.4 607.0 211.5 606.0 209.7 604.0 Z" fill="#202020" stroke="#202020" stroke-width="1.68" stroke-linecap="round" stroke-linejoin="round" />
<path d="M 230.9 595.2 C 228.2 595.8 228.2 600.7 230.4 601.6" fill="none" stroke="#202020" stroke-width="2.02" stroke-linecap="round" stroke-linejoin="round" />
<path d="M 233.7 596.2 L 243.6 599.5 M 231.9 601.9 L 241.7 605.3 M 233.7 596.2 C 231.2 596.6 230.6 600.7 231.9 601.9" fill="none" stroke="#202020" stroke-width="2.46" stroke-linecap="round" stroke-linejoin="round" />
<path d="M 247.3 597.0 C 242.9 598.9 241.7 608.7 246.0 611.8 C 249.7 611.8 252.2 605.0 252.8 600.1 C 252.2 597.4 249.7 596.4 247.3 597.0 Z" fill="none" stroke="#202020" stroke-width="2.69" stroke-linecap="round" stroke-linejoin="round" />
<path d="M 249.7 602.3 L 284.8 615.5 M 248.5 606.3 L 283.6 619.6 M 284.8 615.5 C 285.8 616.7 285.1 618.8 283.6 619.6" fill="none" stroke="#202020" stroke-width="2.24" stroke-linecap="round" stroke-linejoin="round" />
<ellipse cx="347.9" cy="542.7" rx="8.6" ry="13.4" transform="rotate(8 347.9 542.7)" fill="none" stroke="#202020" stroke-width="2.0"/>
<path d="M 330.4 529.3 C 329.9 534.6 331.5 541.9 337.8 547.7 M 330.4 529.3 L 336.7 526.0 L 343.0 527.4" fill="none" stroke="#202020" stroke-width="2.24" stroke-linecap="round" stroke-linejoin="round" />
<path d="M 331.5 528.8 L 337.0 526.0 L 342.7 527.8 L 338.3 531.4 Z" fill="#202020" stroke="#202020" stroke-width="1.12" stroke-linecap="round" stroke-linejoin="round" />
<path d="M 341.9 542.9 L 342.5 546.6 M 346.1 541.9 L 351.4 541.1 L 351.9 545.0 L 346.7 546.1 Z" fill="none" stroke="#202020" stroke-width="1.79" stroke-linecap="round" stroke-linejoin="round" />
<path d="M 440.1 722.8 L 456.5 739.6 M 442.1 722.4 L 460.4 736.6" fill="none" stroke="#202020" stroke-width="1.79" stroke-linecap="round" stroke-linejoin="round" />
<path d="M 443.2 725.9 L 446.4 723.6" fill="none" stroke="#202020" stroke-width="1.57" stroke-linecap="round" stroke-linejoin="round" />
<path d="M 445.4 728.0 L 448.6 725.7" fill="none" stroke="#202020" stroke-width="1.57" stroke-linecap="round" stroke-linejoin="round" />
<path d="M 447.6 730.1 L 450.7 727.7" fill="none" stroke="#202020" stroke-width="1.57" stroke-linecap="round" stroke-linejoin="round" />
<path d="M 449.8 732.2 L 452.9 729.8" fill="none" stroke="#202020" stroke-width="1.57" stroke-linecap="round" stroke-linejoin="round" />
<path d="M 451.9 734.2 L 455.1 731.9" fill="none" stroke="#202020" stroke-width="1.57" stroke-linecap="round" stroke-linejoin="round" />
<path d="M 454.1 736.3 L 457.2 733.9" fill="none" stroke="#202020" stroke-width="1.57" stroke-linecap="round" stroke-linejoin="round" />
<path d="M 456.3 738.4 L 459.4 736.0" fill="none" stroke="#202020" stroke-width="1.57" stroke-linecap="round" stroke-linejoin="round" />
<path d="M 456.5 740.9 C 455.5 744.5 458.4 748.0 462.4 747.4 C 466.9 746.5 468.3 741.5 466.3 739.0 C 464.3 736.6 458.4 737.6 456.5 740.9 Z" fill="none" stroke="#202020" stroke-width="2.24" stroke-linecap="round" stroke-linejoin="round" />
<path d="M 460.4 736.6 C 457.4 737.6 456.1 739.6 456.5 740.9" fill="none" stroke="#202020" stroke-width="2.02" stroke-linecap="round" stroke-linejoin="round" />
<path d="M279.4,591.3h.01M332.1,683.9h.01M316.4,665.4h.01M349.5,643.5h.01M285.3,561.6h.01M343.9,685.5h.01M343.3,691.7h.01M314.2,613.5h.01M363.3,701.9h.01M363.8,698.0h.01M283.0,566.3h.01M362.9,701.7h.01M300.6,579.1h.01M366.7,700.4h.01M286.4,568.3h.01M307.6,633.1h.01M333.4,644.1h.01M321.5,647.7h.01M331.1,625.2h.01M342.3,664.9h.01M294.1,602.8h.01M322.9,664.5h.01M286.5,589.6h.01M288.2,605.8h.01M274.6,574.7h.01M356.3,679.6h.01M356.3,650.9h.01M301.9,616.9h.01M366.6,701.3h.01M347.7,679.3h.01M336.1,632.9h.01M274.9,567.0h.01M369.9,658.5h.01M372.7,688.1h.01M336.1,633.8h.01M292.4,585.9h.01M372.4,674.9h.01M331.3,683.1h.01M302.4,626.2h.01M250.6,575.6h.01M260.5,567.1h.01M379.9,681.9h.01M287.3,603.0h.01M325.4,609.8h.01M355.5,648.1h.01M303.6,611.5h.01M307.7,592.9h.01M318.2,658.7h.01M369.1,672.7h.01M336.0,686.8h.01M354.3,654.6h.01M346.0,639.5h.01M255.8,571.6h.01M337.6,679.3h.01M348.2,693.7h.01M322.2,678.1h.01M277.0,583.3h.01M294.6,615.0h.01M340.0,667.6h.01M337.6,632.6h.01M287.2,591.0h.01M273.5,560.4h.01M310.3,613.0h.01M310.3,644.6h.01M308.6,590.6h.01M363.6,688.6h.01M324.5,655.8h.01M304.2,628.1h.01M351.5,667.7h.01M334.8,674.9h.01M312.3,608.5h.01M343.8,656.2h.01M333.6,649.3h.01M326.9,638.2h.01M333.9,624.0h.01M286.8,582.8h.01M313.8,593.2h.01M319.0,669.9h.01M256.9,573.5h.01M352.4,663.4h.01M268.9,584.7h.01M357.5,666.5h.01M298.9,585.4h.01M317.1,640.1h.01M271.3,593.6h.01M355.8,687.3h.01M320.6,642.3h.01M327.4,663.3h.01M335.9,629.0h.01M316.5,624.4h.01M333.7,622.0h.01M354.3,648.2h.01M275.7,568.4h.01M373.2,661.7h.01M356.3,693.2h.01M258.3,563.3h.01M341.2,635.6h.01M307.6,585.6h.01M272.3,582.0h.01M299.7,581.7h.01M246.8,573.2h.01M251.3,560.3h.01M305.9,616.7h.01M299.6,615.0h.01M273.7,570.8h.01M260.4,564.7h.01M278.1,595.9h.01M357.4,649.0h.01M291.4,570.8h.01M247.2,570.3h.01M266.9,562.4h.01M355.8,691.1h.01M346.9,664.3h.01M301.2,590.6h.01M280.8,581.9h.01M344.2,645.6h.01M333.2,685.5h.01M368.9,664.2h.01M289.8,611.2h.01M276.8,564.2h.01M327.8,672.3h.01M267.9,568.6h.01M329.4,650.9h.01M349.9,684.5h.01M318.7,624.9h.01M334.0,645.6h.01M273.6,581.2h.01M373.7,663.2h.01M365.8,701.3h.01M318.2,618.3h.01M376.1,689.1h.01M268.9,571.1h.01M315.9,650.5h.01M380.6,685.1h.01M295.3,580.6h.01M316.8,636.3h.01M367.5,675.0h.01M284.7,592.5h.01M268.9,559.0h.01M303.7,606.5h.01M301.7,595.1h.01M331.1,655.8h.01M371.1,675.2h.01M277.7,576.9h.01M349.5,672.5h.01M320.5,597.9h.01M266.6,559.6h.01M301.2,632.8h.01M266.9,583.8h.01M319.8,616.7h.01" stroke="#202020" stroke-width="1.3" stroke-linecap="round" fill="none"/>
<path d="M553.8,565.2h.01M477.0,637.7h.01M360.4,684.6h.01M552.3,594.4h.01M424.8,642.3h.01M360.7,654.1h.01M536.1,623.1h.01M427.9,623.1h.01M569.8,551.0h.01M363.9,671.4h.01M438.8,638.5h.01M402.3,666.4h.01M383.2,665.2h.01M367.9,696.3h.01M458.0,613.8h.01M372.0,691.6h.01M392.1,680.4h.01M437.7,671.1h.01M438.2,658.3h.01M499.8,638.8h.01M413.9,653.1h.01M434.8,648.8h.01M471.5,630.7h.01M395.8,679.1h.01M503.2,613.6h.01M454.9,649.7h.01M407.1,655.4h.01M460.1,607.2h.01M491.6,640.3h.01M384.8,678.3h.01M477.3,600.8h.01M536.1,613.4h.01M488.2,636.2h.01M490.9,602.7h.01M440.9,615.3h.01M386.2,645.3h.01M528.2,586.0h.01M490.8,622.1h.01M498.7,642.5h.01M523.6,594.7h.01M474.8,600.3h.01M423.9,630.8h.01M363.1,669.9h.01M452.0,638.0h.01M543.3,578.3h.01M423.8,678.1h.01M374.2,679.1h.01M509.5,615.5h.01M421.6,670.3h.01M555.9,569.8h.01M462.9,633.8h.01M393.0,639.6h.01M409.5,676.4h.01M365.5,661.2h.01M541.2,581.9h.01M392.2,643.5h.01M549.0,568.5h.01M489.1,624.5h.01M372.0,657.2h.01M392.5,646.8h.01M479.4,645.1h.01M416.6,634.2h.01M414.7,665.6h.01M378.3,652.6h.01M429.6,672.8h.01M366.3,661.5h.01M494.4,603.2h.01M492.1,602.3h.01M533.1,615.6h.01M487.5,637.6h.01M519.3,609.6h.01M493.3,614.9h.01M549.4,571.3h.01M366.9,693.0h.01M385.4,652.6h.01M422.6,653.6h.01M499.0,615.2h.01M373.1,670.1h.01M471.7,602.5h.01M368.1,700.4h.01M446.6,631.0h.01M544.3,581.1h.01M464.7,637.3h.01M441.0,645.8h.01M537.8,582.6h.01M378.9,669.0h.01M536.3,596.6h.01M452.2,638.2h.01M417.6,675.2h.01M416.5,653.8h.01M512.6,617.6h.01M453.4,616.9h.01M535.2,613.4h.01M371.3,701.4h.01M481.0,603.6h.01M521.6,585.4h.01M381.2,660.4h.01M553.7,578.7h.01M531.5,598.4h.01M470.1,639.8h.01M462.4,658.1h.01M438.1,640.8h.01M506.2,629.6h.01M513.7,595.7h.01M559.9,590.6h.01M552.8,585.0h.01M508.2,634.5h.01M513.9,606.3h.01M550.8,580.9h.01M396.0,647.0h.01M524.9,582.7h.01M516.6,613.0h.01M451.5,630.6h.01M554.7,595.0h.01M420.4,642.7h.01M568.0,576.8h.01M481.0,642.4h.01M409.3,657.1h.01M392.7,644.3h.01M382.6,666.7h.01M440.6,619.6h.01M476.9,606.4h.01M385.3,641.4h.01M440.6,655.0h.01M563.3,558.7h.01M467.3,657.1h.01M411.2,652.3h.01M524.8,604.2h.01M458.6,607.6h.01M455.2,621.7h.01M453.5,640.8h.01M365.1,668.6h.01M391.9,670.3h.01M417.4,666.1h.01M440.2,669.4h.01M498.5,606.4h.01M439.3,622.6h.01M411.8,636.9h.01M416.6,633.2h.01M463.5,658.5h.01M361.8,668.8h.01M450.1,626.8h.01M439.7,630.8h.01M560.5,559.5h.01M456.5,663.3h.01M473.8,608.6h.01M558.9,594.5h.01M466.3,636.5h.01M568.2,588.8h.01M419.3,670.8h.01M519.5,588.6h.01M443.6,646.4h.01M548.6,616.4h.01M553.1,575.2h.01M564.2,564.8h.01M373.8,655.1h.01M459.0,649.5h.01M374.9,648.6h.01M522.3,588.1h.01M523.1,628.6h.01M451.5,645.3h.01M507.9,617.8h.01M466.2,631.8h.01M502.5,613.4h.01M551.4,589.0h.01M565.7,565.7h.01M525.6,600.3h.01M382.2,646.9h.01M370.7,700.5h.01M442.6,647.6h.01M515.8,588.4h.01M514.2,612.0h.01M442.1,647.2h.01M557.7,598.6h.01M483.5,626.1h.01M421.1,664.6h.01M395.1,657.4h.01M371.3,660.8h.01M386.3,667.7h.01M432.4,640.5h.01M497.5,624.3h.01M548.7,568.3h.01M450.4,612.7h.01M570.1,567.6h.01M563.0,596.6h.01M505.4,600.9h.01M517.5,626.9h.01M475.2,622.7h.01M411.2,677.9h.01M500.1,608.0h.01M501.3,638.9h.01M520.0,626.7h.01M518.2,606.1h.01M455.6,655.4h.01M540.9,570.6h.01M458.6,616.4h.01M532.8,622.4h.01M364.4,686.7h.01M424.5,662.1h.01M446.6,618.4h.01M530.6,612.9h.01M540.8,604.9h.01M380.4,642.7h.01M539.4,598.7h.01M522.9,622.6h.01M532.8,618.4h.01M451.8,616.7h.01M537.0,583.5h.01M423.4,676.0h.01M407.3,652.1h.01M517.1,611.5h.01M527.6,596.1h.01M470.4,621.3h.01M375.3,653.6h.01M560.3,593.3h.01M563.3,561.2h.01M506.7,620.1h.01M381.2,683.2h.01M430.6,655.4h.01M434.6,627.2h.01M457.1,650.8h.01M492.3,611.2h.01M489.8,640.3h.01M383.4,666.3h.01M377.5,646.0h.01M421.2,650.7h.01M509.2,627.7h.01M428.8,645.8h.01M383.9,686.8h.01M439.7,670.8h.01M414.9,644.9h.01M454.1,644.0h.01M367.6,676.2h.01M467.4,638.8h.01M527.5,595.6h.01M432.9,643.7h.01M418.8,630.2h.01M528.4,587.5h.01M514.9,624.7h.01M442.5,637.6h.01M487.5,598.1h.01M530.1,593.9h.01M502.9,639.4h.01M420.6,662.4h.01M385.6,640.6h.01M460.2,633.2h.01M380.5,664.2h.01M434.6,622.2h.01M425.0,635.5h.01M461.2,642.0h.01M456.0,635.6h.01M435.7,656.8h.01M462.7,632.0h.01M468.7,651.7h.01M431.2,655.1h.01M439.1,644.4h.01M409.6,644.1h.01M522.3,583.1h.01M465.9,629.8h.01M455.3,636.6h.01M378.2,669.8h.01M500.3,632.4h.01M431.8,668.6h.01M474.4,652.5h.01M466.2,625.1h.01M501.5,635.8h.01M370.6,698.4h.01M428.6,626.0h.01M559.8,591.0h.01M424.2,675.2h.01M411.9,652.5h.01M423.1,646.4h.01M391.0,671.0h.01M548.0,597.3h.01M552.6,614.2h.01M555.4,570.9h.01M451.8,629.3h.01M426.2,669.8h.01M472.7,653.4h.01M504.6,629.5h.01M505.1,600.5h.01M422.7,659.7h.01M369.9,687.3h.01M550.6,594.2h.01M471.1,606.1h.01M366.7,686.0h.01M492.3,622.3h.01M515.4,614.8h.01M420.0,670.4h.01M407.5,648.0h.01M425.1,643.0h.01M468.3,624.2h.01M506.4,621.9h.01M493.8,640.2h.01M507.9,599.1h.01M364.9,653.1h.01M485.0,648.8h.01M389.8,678.4h.01M421.8,644.7h.01M518.6,598.1h.01M461.4,635.9h.01M501.1,588.6h.01M485.2,641.6h.01M466.8,613.8h.01M461.4,605.9h.01M477.8,640.0h.01M388.1,662.5h.01M524.3,608.3h.01M388.3,667.0h.01M406.4,652.6h.01M509.8,590.4h.01M517.3,615.9h.01M409.6,633.7h.01M489.9,626.1h.01M506.8,608.3h.01M437.2,655.5h.01M501.2,624.6h.01M535.6,598.8h.01M435.5,665.7h.01M506.2,614.4h.01M549.1,577.8h.01M561.2,599.0h.01M542.7,570.4h.01M401.3,689.9h.01M417.2,662.4h.01M407.3,643.4h.01M505.4,597.3h.01M485.2,630.4h.01M497.3,636.1h.01M384.5,683.7h.01M517.0,608.3h.01M462.0,655.1h.01M418.8,641.0h.01M477.4,614.7h.01M552.5,569.9h.01M557.1,588.6h.01M506.3,629.7h.01M526.1,589.4h.01M560.0,583.2h.01M523.0,605.3h.01M439.7,639.1h.01M530.0,619.8h.01M478.7,641.6h.01M426.2,652.0h.01M390.9,664.7h.01M517.2,589.5h.01M405.3,638.4h.01M529.8,584.1h.01M458.8,613.5h.01M442.8,635.5h.01M476.3,625.7h.01M495.6,634.4h.01M447.5,646.1h.01M549.0,606.1h.01M475.8,635.9h.01M391.3,654.6h.01M519.0,605.8h.01M402.0,669.6h.01M571.2,580.1h.01M512.1,609.8h.01M373.7,657.8h.01M513.9,616.6h.01M507.0,614.8h.01M516.2,615.0h.01M465.6,609.7h.01M562.3,558.5h.01M494.5,607.3h.01M460.4,633.7h.01M551.1,586.5h.01M531.5,609.1h.01M399.3,673.8h.01M430.3,633.0h.01M510.0,589.1h.01M439.3,653.1h.01M440.9,670.4h.01M490.1,594.7h.01M504.2,590.6h.01M523.5,600.7h.01M547.2,614.1h.01M547.3,574.4h.01M433.1,661.8h.01M457.4,649.1h.01M470.3,604.1h.01M528.5,627.3h.01M391.3,676.9h.01M518.0,593.7h.01M387.9,695.9h.01M521.7,631.2h.01M465.9,619.2h.01M495.7,644.2h.01M564.4,583.7h.01M398.2,649.0h.01M512.6,603.2h.01M392.7,676.2h.01M498.3,601.5h.01M509.4,590.6h.01M523.8,593.6h.01M477.6,601.7h.01M364.8,700.7h.01M371.9,688.0h.01M452.3,627.2h.01M563.8,597.0h.01M546.2,601.6h.01M463.1,644.2h.01M504.2,590.0h.01M469.7,605.3h.01M458.3,657.3h.01M468.2,611.1h.01M506.9,614.1h.01M511.8,602.2h.01M464.4,624.9h.01M389.8,672.2h.01M389.8,690.5h.01M474.0,634.6h.01M497.0,622.9h.01M431.6,661.7h.01M538.8,622.0h.01M471.7,639.5h.01M411.8,669.5h.01M443.0,636.8h.01" stroke="#202020" stroke-width="1.3" stroke-linecap="round" fill="none"/>
<path d="M557.7,573.0h.01M553.5,605.4h.01M559.2,575.2h.01M574.3,550.6h.01M569.8,567.7h.01M549.1,604.7h.01M561.5,573.5h.01M563.1,577.4h.01M549.3,588.5h.01M554.5,568.4h.01M546.7,587.7h.01M557.3,608.8h.01M565.0,567.6h.01M574.4,555.6h.01M553.2,600.5h.01M566.3,587.6h.01M570.5,569.4h.01M563.7,589.1h.01M559.3,579.4h.01M555.3,594.0h.01M568.4,567.3h.01M552.0,594.3h.01M552.2,608.6h.01M558.2,609.4h.01M551.0,609.5h.01M573.6,558.0h.01M559.7,565.8h.01M551.4,587.1h.01M556.9,590.7h.01M552.2,575.4h.01M538.4,608.8h.01M555.0,581.3h.01M568.7,558.7h.01M543.7,601.6h.01M557.5,602.1h.01M547.2,596.0h.01M569.1,581.0h.01M562.1,603.5h.01M565.7,580.9h.01M544.2,602.8h.01M550.0,603.6h.01M552.6,613.9h.01M564.8,559.3h.01M543.0,605.4h.01M550.7,585.9h.01M553.8,608.6h.01M568.6,562.2h.01M546.5,588.5h.01M542.4,611.3h.01M550.8,579.5h.01M553.3,611.8h.01M556.4,584.7h.01M564.8,586.4h.01M549.7,583.8h.01M558.4,602.4h.01M566.6,583.0h.01M558.6,600.7h.01M571.9,578.5h.01M560.5,582.9h.01M556.8,596.0h.01" stroke="#202020" stroke-width="1.5" stroke-linecap="round" fill="none"/>
<path d="M 546.3 1633.7 C 545.9 1626.6 554.4 1618.5 566.6 1616.0 C 576.8 1614.4 589.0 1619.5 599.1 1625.6 C 604.2 1629.0 606.9 1631.7 609.7 1636.4 L 646.9 1702.9 L 667.3 1685.6 C 669.3 1680.5 675.4 1674.4 684.5 1670.3 L 792.3 1629.0 C 798.4 1627.0 804.5 1628.6 811.6 1633.1 C 818.7 1637.2 826.9 1636.0 835.0 1636.0 C 844.2 1636.8 851.3 1641.9 852.1 1651.0 C 852.3 1667.3 847.2 1683.5 837.0 1697.8 C 830.9 1705.9 822.8 1711.0 814.7 1714.4 L 692.7 1764.1 C 684.5 1767.9 676.4 1771.4 668.3 1771.0 C 656.1 1769.7 643.9 1762.8 632.7 1753.7 C 622.5 1744.5 615.4 1732.3 612.6 1722.6 L 615.0 1719.3 L 623.9 1728.7" fill="none" stroke="#202020" stroke-width="2.24" stroke-linecap="round" stroke-linejoin="round" />
<path d="M 546.3 1633.7 C 547.5 1639.8 554.4 1643.3 563.6 1646.5 C 574.7 1650.0 583.3 1657.1 591.0 1668.9 L 615.4 1715.1 L 623.9 1728.7" fill="none" stroke="#202020" stroke-width="2.24" stroke-linecap="round" stroke-linejoin="round" />
<path d="M 646.9 1702.9 C 649.0 1709.0 654.0 1713.6 662.2 1713.6 C 666.2 1713.6 670.3 1712.0 674.4 1710.4 L 810.6 1653.0 C 816.7 1650.2 820.8 1647.3 822.8 1644.9" fill="none" stroke="#202020" stroke-width="1.9" stroke-linecap="round" stroke-linejoin="round" />
<path d="M 681.5 1672.1 C 690.6 1676.4 704.9 1679.9 714.0 1679.1 C 718.1 1678.7 722.2 1677.0 726.2 1675.4 L 794.3 1647.7 C 800.4 1644.9 804.1 1641.9 805.7 1638.8" fill="none" stroke="#202020" stroke-width="1.79" stroke-linecap="round" stroke-linejoin="round" />
<path d="M 668.3 1685.6 C 672.3 1689.2 690.6 1691.3 702.8 1691.7 C 708.9 1691.7 713.0 1690.4 718.1 1688.4 L 808.6 1652.0 C 813.7 1649.8 816.3 1648.0 818.3 1645.3" fill="none" stroke="#202020" stroke-width="1.79" stroke-linecap="round" stroke-linejoin="round" />
<path d="M 560.5 1625.6 C 570.7 1629.7 582.9 1633.7 593.0 1638.8" fill="none" stroke="#202020" stroke-width="1.23" stroke-linecap="round" stroke-linejoin="round" stroke-dasharray="3 3"/>
<path d="M 562.5 1628.6 C 572.7 1632.7 584.9 1637.2 595.5 1643.3" fill="none" stroke="#202020" stroke-width="1.23" stroke-linecap="round" stroke-linejoin="round" stroke-dasharray="3 3"/>
<path d="M 639.8 1721.8 C 645.9 1726.6 654.0 1727.9 664.2 1725.0 L 794.3 1675.0 C 814.7 1667.3 835.0 1659.1 846.2 1653.4" fill="none" stroke="#202020" stroke-width="1.46" stroke-linecap="round" stroke-linejoin="round" stroke-dasharray="5 3.2"/>
<path d="M 641.4 1725.0 C 647.9 1729.9 656.1 1731.1 665.8 1728.3 L 795.6 1677.8 C 815.9 1670.1 836.2 1662.0 847.2 1656.7" fill="none" stroke="#202020" stroke-width="1.46" stroke-linecap="round" stroke-linejoin="round" stroke-dasharray="5 3.2"/>
<path d="M 686.6 1731.3 L 801.5 1686.0 C 806.5 1683.9 811.0 1686.6 811.8 1691.3" fill="none" stroke="#202020" stroke-width="1.68" stroke-linecap="round" stroke-linejoin="round" />
<path d="M 681.5 1756.3 C 684.5 1759.2 688.6 1759.6 692.7 1758.0 L 753.7 1732.7 M 756.1 1730.7 L 804.5 1711.6" fill="none" stroke="#202020" stroke-width="1.68" stroke-linecap="round" stroke-linejoin="round" />
<path d="M 697.1 1741.5 C 693.7 1739.5 691.0 1742.9 692.7 1746.2 C 693.9 1747.8 696.3 1747.4 697.1 1746.2" fill="none" stroke="#202020" stroke-width="2.02" stroke-linecap="round" stroke-linejoin="round" />
<path d="M 802.5 1698.2 C 798.8 1696.1 796.0 1699.8 797.6 1703.1 C 798.8 1704.7 801.2 1704.3 802.1 1703.1" fill="none" stroke="#202020" stroke-width="2.02" stroke-linecap="round" stroke-linejoin="round" />
<path d="M 205.5 1771.4 C 204.7 1762.3 213.3 1754.1 224.9 1752.0 C 237.9 1750.7 252.1 1757.2 262.5 1766.2 C 267.6 1771.4 270.2 1775.3 272.8 1779.9 L 308.3 1842.0 C 312.9 1849.0 320.7 1852.4 329.7 1849.3" fill="none" stroke="#202020" stroke-width="2.24" stroke-linecap="round" stroke-linejoin="round" />
<path d="M 205.5 1771.4 C 206.8 1778.4 215.9 1783.0 226.2 1786.9 C 237.9 1790.8 246.9 1801.2 253.4 1816.7 L 272.0 1856.8 L 283.4 1865.9" fill="none" stroke="#202020" stroke-width="2.24" stroke-linecap="round" stroke-linejoin="round" />
<path d="M 283.4 1865.9 L 278.0 1858.6 C 272.8 1856.0 270.2 1859.4 271.5 1865.3 C 278.0 1878.8 292.2 1892.3 309.0 1902.6 C 319.4 1907.8 328.4 1909.3 334.9 1907.0" fill="none" stroke="#202020" stroke-width="2.46" stroke-linecap="round" stroke-linejoin="round" />
<path d="M 334.9 1907.0 L 501.9 1841.3 C 517.4 1834.6 529.0 1824.2 536.0 1808.7 C 542.0 1790.6 544.6 1775.1 543.8 1764.7 C 542.8 1757.5 536.8 1753.1 529.0 1752.8 C 525.2 1753.1 523.1 1751.8 521.3 1750.7 C 514.8 1747.1 504.5 1747.1 494.1 1750.7 L 341.4 1807.7" fill="none" stroke="#202020" stroke-width="2.46" stroke-linecap="round" stroke-linejoin="round" />
<path d="M 341.4 1807.7 C 333.6 1813.9 328.5 1820.3 323.8 1824.2 L 309.8 1834.6 L 302.1 1820.6" fill="none" stroke="#202020" stroke-width="1.9" stroke-linecap="round" stroke-linejoin="round" />
<path d="M 328.5 1824.2 C 338.8 1828.1 351.8 1830.7 362.1 1829.4" fill="none" stroke="#202020" stroke-width="1.57" stroke-linecap="round" stroke-linejoin="round" />
<path d="M 341.4 1813.9 C 351.8 1817.0 364.7 1817.8 376.3 1815.9" fill="none" stroke="#202020" stroke-width="1.34" stroke-linecap="round" stroke-linejoin="round" stroke-dasharray="8 3 2 3"/>
<path d="M 377.6 1827.3 L 434.6 1805.6" fill="none" stroke="#202020" stroke-width="1.12" stroke-linecap="round" stroke-linejoin="round" stroke-dasharray="2 5 9 4 2 6"/>
<path d="M 443.6 1789.3 L 504.5 1767.3" fill="none" stroke="#202020" stroke-width="1.46" stroke-linecap="round" stroke-linejoin="round" />
<path d="M 432.5 1793.7 L 516.1 1773.5" fill="none" stroke="#202020" stroke-width="1.23" stroke-linecap="round" stroke-linejoin="round" stroke-dasharray="14 4 30 5 6 4"/>
<path d="M 447.5 1798.3 L 532.9 1775.6" fill="none" stroke="#202020" stroke-width="1.23" stroke-linecap="round" stroke-linejoin="round" stroke-dasharray="10 5 3 4 22 6"/>
<path d="M 465.6 1803.5 L 538.1 1782.3" fill="none" stroke="#202020" stroke-width="1.12" stroke-linecap="round" stroke-linejoin="round" stroke-dasharray="5 6 12 8"/>
<path d="M 516.1 1749.7 L 516.9 1754.9 M 527.7 1752.8 L 528.8 1755.9" fill="none" stroke="#202020" stroke-width="1.34" stroke-linecap="round" stroke-linejoin="round" />
<path d="M 497.2 1819.0 C 493.1 1817.0 490.5 1821.1 492.0 1824.2 C 493.6 1826.3 496.2 1825.3 496.7 1823.7" fill="none" stroke="#202020" stroke-width="1.9" stroke-linecap="round" stroke-linejoin="round" />
<path d="M 356.2 1878.6 C 352.0 1876.5 349.4 1880.6 351.0 1883.7 C 352.5 1885.8 355.1 1884.8 355.6 1883.2" fill="none" stroke="#202020" stroke-width="1.9" stroke-linecap="round" stroke-linejoin="round" />
<path d="M 481.2 1813.9 C 491.5 1807.4 503.2 1806.6 507.0 1811.3" fill="none" stroke="#202020" stroke-width="1.46" stroke-linecap="round" stroke-linejoin="round" stroke-dasharray="7 3"/>
<path d="M 504.5 1825.5 C 501.9 1832.0 494.1 1838.5 485.0 1841.0" fill="none" stroke="#202020" stroke-width="1.34" stroke-linecap="round" stroke-linejoin="round" stroke-dasharray="5 4"/>
<path d="M 355.6 1865.6 C 346.6 1868.2 340.1 1878.6 341.4 1888.9 C 342.7 1894.1 346.6 1896.2 351.8 1894.6" fill="none" stroke="#202020" stroke-width="1.46" stroke-linecap="round" stroke-linejoin="round" stroke-dasharray="7 4"/>
<path d="M 215.9 1761.8 C 227.5 1762.9 240.5 1766.5 250.8 1774.2" fill="none" stroke="#202020" stroke-width="1.46" stroke-linecap="butt" stroke-linejoin="round" stroke-dasharray="4 3"/>
<path d="M 258.6 1785.6 C 267.6 1801.2 276.7 1821.9 287.0 1840.0" fill="none" stroke="#444" stroke-width="1.46" stroke-linecap="butt" stroke-linejoin="round" stroke-dasharray="1.2 7"/>
<path d="M 300.0 1856.8 C 307.7 1863.3 318.1 1865.9 328.4 1863.3" fill="none" stroke="#202020" stroke-width="1.46" stroke-linecap="round" stroke-linejoin="round" stroke-dasharray="5 3"/>
<path d="M 342.7 1810.2 C 349.2 1816.7 364.7 1819.3 376.3 1816.7" fill="none" stroke="#202020" stroke-width="1.46" stroke-linecap="round" stroke-linejoin="round" stroke-dasharray="9 4"/>
<path d="M 327.2 1761.8 L 353.0 1788.2 L 302.6 1819.8" fill="none" stroke="#202020" stroke-width="1.68" stroke-linecap="round" stroke-linejoin="round" stroke-dasharray="13 4 2 4"/>
<path d="M 302.6 1819.8 L 309.0 1834.3 L 341.4 1810.2" fill="none" stroke="#202020" stroke-width="1.79" stroke-linecap="round" stroke-linejoin="round" />
<path d="M 491.5 1842.3 L 507.0 1883.7 L 520.0 1883.7" fill="none" stroke="#202020" stroke-width="1.57" stroke-linecap="round" stroke-linejoin="round" />
<circle cx="763.2" cy="1533.3" r="2.9" fill="#202020"/>
<circle cx="733.7" cy="1556.1" r="3.4" fill="#202020"/>
<circle cx="743.3" cy="1556.1" r="3.4" fill="#202020"/>
<circle cx="734.3" cy="1597.1" r="3.4" fill="#202020"/>
<circle cx="744.5" cy="1597.1" r="3.4" fill="#202020"/>
<path d="M 679.4 1520.7 L 669.6 1520.7 L 669.6 1607.2 L 677.6 1607.2" fill="none" stroke="#202020" stroke-width="2.02" stroke-linecap="round" stroke-linejoin="round" />
<path d="M 669.6 1561.6 L 658.5 1561.6" fill="none" stroke="#202020" stroke-width="1.68" stroke-linecap="round" stroke-linejoin="round" />
<line x1="658.5" y1="1561.6" x2="624.3" y2="1659.2" stroke="#1a1a1a" stroke-width="1.6" />
<path d="M 765.7 1520.7 L 774.9 1520.7 L 774.9 1557.9 L 765.7 1558.9" fill="none" stroke="#202020" stroke-width="2.02" stroke-linecap="round" stroke-linejoin="round" />
<path d="M 766.9 1565.9 L 774.3 1565.9 L 774.3 1608.4 L 764.5 1609.1" fill="none" stroke="#202020" stroke-width="2.02" stroke-linecap="round" stroke-linejoin="round" />
<polygon points="789.2,1540.7 801.1,1537.5 813.1,1540.7 801.1,1543.9" fill="none" stroke="#202020" stroke-width="1.7" stroke-linejoin="miter"/>
<polygon points="814.1,1540.7 800.5,1537.2 800.5,1544.2" fill="#202020"/>
<polygon points="788.5,1589.0 801.1,1585.8 813.7,1589.0 801.1,1592.2" fill="none" stroke="#202020" stroke-width="1.7" stroke-linejoin="miter"/>
<polygon points="787.5,1589.0 801.7,1585.5 801.7,1592.5" fill="#202020"/>
<circle cx="606.2" cy="1851.4" r="2.8" fill="#202020"/>
<circle cx="576.4" cy="1876.0" r="3.2" fill="#202020"/>
<circle cx="586.0" cy="1876.0" r="3.2" fill="#202020"/>
<circle cx="577.0" cy="1917.9" r="3.2" fill="#202020"/>
<circle cx="587.3" cy="1917.9" r="3.2" fill="#202020"/>
<path d="M 527.7 1847.0 L 520.0 1847.0 L 520.0 1924.6 L 527.7 1924.6" fill="none" stroke="#202020" stroke-width="1.9" stroke-linecap="round" stroke-linejoin="round" />
<path d="M 610.6 1845.4 L 618.8 1845.4 L 618.8 1879.1 L 610.6 1879.1" fill="none" stroke="#202020" stroke-width="1.9" stroke-linecap="round" stroke-linejoin="round" />
<path d="M 610.6 1887.6 L 617.8 1887.6 L 617.8 1925.7 L 609.3 1925.7" fill="none" stroke="#202020" stroke-width="1.9" stroke-linecap="round" stroke-linejoin="round" />
<polygon points="661.5,1863.2 646,1859.8 646,1866.6" fill="#202020"/>
<path d="M 632.6 1863.6 L 646.3 1860.5 M 632.6 1863.6 L 646.3 1866.7" fill="none" stroke="#202020" stroke-width="1.12" stroke-linecap="round" stroke-linejoin="round" stroke-dasharray="2 2"/>
<polygon points="634.5,1909.0 647.0,1905.8 659.6,1909.0 647.0,1912.2" fill="none" stroke="#202020" stroke-width="1.7" stroke-linejoin="miter"/>
<polygon points="633.5,1909.0 647.6,1905.5 647.6,1912.5" fill="#202020"/>
<path d="M 241.7 1673.1 L 153.8 1673.1 L 120.1 1735.2" fill="none" stroke="#202020" stroke-width="1.57" stroke-linecap="round" stroke-linejoin="round" />
<path d="M 237.9 1694.3 L 195.2 1694.3 L 169.3 1735.2" fill="none" stroke="#202020" stroke-width="1.57" stroke-linecap="round" stroke-linejoin="round" />
<path d="M 237.9 1713.7 L 221.0 1713.7 L 186.1 1771.4" fill="none" stroke="#202020" stroke-width="1.57" stroke-linecap="round" stroke-linejoin="round" />
<path d="M 323.3 1740.3 L 338.8 1739.6" fill="none" stroke="#202020" stroke-width="1.79" stroke-linecap="round" stroke-linejoin="round" />
<path d="M 166.7 1796.0 L 176.3 1796.0" fill="none" stroke="#202020" stroke-width="1.68" stroke-linecap="round" stroke-linejoin="round" />
<path d="M 170.6 1835.3 L 193.9 1835.3 L 222.3 1810.2" fill="none" stroke="#202020" stroke-width="1.57" stroke-linecap="round" stroke-linejoin="round" />
<path d="M 421.6 1954.9 L 441.0 1955.7" fill="none" stroke="#202020" stroke-width="1.68" stroke-linecap="round" stroke-linejoin="round" />
<line x1="418.0" y1="1609.0" x2="492.0" y2="1609.6" stroke="#1a1a1a" stroke-width="1.5" />
<path d="M 109.9 1746.7 L 110.9 1740.4 L 121.4 1737.0 L 129.0 1736.2 L 129.8 1739.9 L 126.7 1742.5 L 127.3 1750.4 L 123.5 1753.5 L 112.5 1756.7 L 109.4 1754.6 L 110.9 1751.4 Z" fill="none" stroke="#202020" stroke-width="1.9" stroke-linecap="round" stroke-linejoin="round" />
<path d="M 110.9 1740.4 L 112.5 1744.6 L 125.6 1740.9 M 110.4 1754.0 L 122.5 1751.4" fill="none" stroke="#202020" stroke-width="1.46" stroke-linecap="round" stroke-linejoin="round" />
<path d="M 121.9 1744.6 C 119.3 1744.1 117.8 1746.7 119.3 1749.9" fill="none" stroke="#202020" stroke-width="2.24" stroke-linecap="round" stroke-linejoin="round" />
<path d="M 141.8 1737.5 C 145.5 1734.7 151.8 1732.6 161.2 1732.4 L 189.0 1748.3 C 189.5 1750.9 187.9 1753.0 179.0 1756.7 L 167.5 1752.7 L 141.8 1740.1 Z" fill="none" stroke="#202020" stroke-width="1.9" stroke-linecap="round" stroke-linejoin="round" />
<path d="M 140.5 1740.5 L 138.8 1770.8 L 141.8 1771.3 L 142.9 1762.9 L 167.5 1753.0" fill="none" stroke="#202020" stroke-width="1.9" stroke-linecap="round" stroke-linejoin="round" />
<path d="M 143.9 1764.0 L 158.6 1759.3 L 158.1 1765.0 L 154.9 1766.3 L 143.9 1768.8 Z" fill="none" stroke="#202020" stroke-width="1.68" stroke-linecap="round" stroke-linejoin="round" />
<ellipse cx="179.9" cy="1748.9" rx="2" ry="1.1" fill="#202020"/>
<path d="M 163.8 1765.9 L 174.6 1771.1 M 162.5 1770.1 L 173.8 1775.7 M 163.8 1765.9 C 162.3 1766.6 161.8 1768.7 162.5 1770.1" fill="none" stroke="#202020" stroke-width="2.69" stroke-linecap="round" stroke-linejoin="round" />
<path d="M 175.1 1769.2 C 173.8 1772.4 174.0 1778.7 177.5 1781.8 L 187.9 1782.8 C 193.2 1781.3 194.2 1774.5 190.6 1771.1 L 182.2 1766.6 C 179.0 1766.1 176.4 1767.1 175.1 1769.2 Z" fill="none" stroke="#202020" stroke-width="2.46" stroke-linecap="round" stroke-linejoin="round" />
<path d="M 181.1 1770.3 C 178.0 1772.4 178.0 1778.7 182.2 1781.3 M 184.8 1771.3 C 188.5 1772.4 189.5 1778.7 185.8 1780.8 M 182.2 1774.5 L 186.4 1773.9" fill="none" stroke="#202020" stroke-width="1.9" stroke-linecap="round" stroke-linejoin="round" />
<path d="M 167.0 1794.6 L 180.3 1794.6 M 179.7 1788.6 L 179.7 1793.8" fill="none" stroke="#202020" stroke-width="2.02" stroke-linecap="round" stroke-linejoin="round" />
<path d="M 174.6 1797.3 C 176.4 1800.1 182.2 1800.9 184.9 1797.3" fill="none" stroke="#202020" stroke-width="2.69" stroke-linecap="round" stroke-linejoin="round" />
<path d="M 194.7 1789.1 C 192.1 1790.7 192.1 1794.9 193.9 1795.9" fill="none" stroke="#202020" stroke-width="2.02" stroke-linecap="round" stroke-linejoin="round" />
<path d="M 197.9 1790.4 L 208.9 1794.6 M 196.0 1795.6 L 207.3 1800.1 M 197.9 1790.4 C 195.6 1791.2 195.0 1794.6 196.0 1795.6" fill="none" stroke="#202020" stroke-width="2.46" stroke-linecap="round" stroke-linejoin="round" />
<path d="M 213.1 1792.1 C 208.9 1793.3 206.8 1802.7 210.5 1806.7 C 214.1 1806.9 216.2 1801.2 217.3 1795.4 C 216.7 1792.8 215.2 1791.8 213.1 1792.1 Z" fill="none" stroke="#202020" stroke-width="2.69" stroke-linecap="round" stroke-linejoin="round" />
<path d="M 214.1 1797.7 L 249.0 1813.4 M 212.6 1803.0 L 246.9 1818.5 M 249.0 1813.4 C 249.7 1815.3 248.7 1817.6 246.9 1818.5" fill="none" stroke="#202020" stroke-width="2.24" stroke-linecap="round" stroke-linejoin="round" />
<path d="M 306.6 1744.0 C 306.6 1737.6 309.9 1732.5 315.0 1732.5 C 320.5 1732.9 322.8 1738.0 322.3 1745.9 C 322.2 1754.2 319.6 1759.3 314.2 1759.3 C 308.5 1758.8 306.5 1752.3 306.6 1744.0 Z" fill="none" stroke="#202020" stroke-width="2.46" stroke-linecap="round" stroke-linejoin="round" />
<path d="M 298.3 1732.0 L 298.8 1743.1 L 303.9 1749.6 M 298.3 1732.0 L 303.9 1728.8 L 310.8 1730.2" fill="none" stroke="#202020" stroke-width="2.24" stroke-linecap="round" stroke-linejoin="round" />
<path d="M 299.2 1731.6 L 304.3 1728.5 L 310.5 1730.4 L 306.6 1733.4 Z" fill="#202020" stroke="#202020" stroke-width="1.12" stroke-linecap="round" stroke-linejoin="round" />
<path d="M 308.9 1745.9 L 312.6 1745.0 M 314.2 1744.2 L 317.7 1745.0 L 317.3 1747.7 L 314.2 1749.6 Z M 309.4 1753.7 L 307.6 1754.7" fill="none" stroke="#202020" stroke-width="1.68" stroke-linecap="round" stroke-linejoin="round" />
<path d="M 327.0 1761.1 L 353.8 1788.6 L 333.4 1800.0" fill="none" stroke="#202020" stroke-width="1.68" stroke-linecap="round" stroke-linejoin="round" stroke-dasharray="12 4 2 4"/>
<ellipse cx="514.0" cy="1609.6" rx="27.2" ry="16.6" transform="rotate(-26 514.0 1609.6)" fill="none" stroke="#202020" stroke-width="2.0"/>
<path d="M 495.9 1624.5 C 495.3 1619.3 497.7 1613.1 503.3 1608.2 C 510.7 1602.0 519.3 1597.1 526.7 1595.0 C 530.4 1594.3 534.1 1594.6 536.9 1595.6" fill="none" stroke="#202020" stroke-width="2.02" stroke-linecap="round" stroke-linejoin="round" />
<path d="M 526.4 1595.0 C 529.1 1593.4 532.8 1593.7 536.5 1595.4 C 533.5 1595.1 529.8 1595.3 526.4 1595.0 Z" fill="#202020" stroke="#202020" stroke-width="1.12" stroke-linecap="round" stroke-linejoin="round" />
<path d="M 501.4 1611.9 L 520.5 1599.7 L 521.9 1604.8 L 503.3 1615.6 Z" fill="none" stroke="#202020" stroke-width="2.02" stroke-linecap="round" stroke-linejoin="round" />
<path d="M 500.2 1621.1 C 507.0 1620.2 513.1 1617.8 519.6 1613.9" fill="none" stroke="#202020" stroke-width="1.79" stroke-linecap="round" stroke-linejoin="round" />
<path d="M 397.8 1929.0 L 416.5 1945.3" fill="none" stroke="#202020" stroke-width="2.69" stroke-linecap="butt" stroke-linejoin="round" stroke-dasharray="1.1 1.9"/>
<path d="M 415.9 1946.4 C 411.8 1949.7 412.8 1954.9 417.8 1955.2 C 422.9 1954.1 424.7 1948.4 421.6 1945.9 C 419.6 1944.6 417.0 1945.3 415.9 1946.4 Z" fill="none" stroke="#202020" stroke-width="1.9" stroke-linecap="round" stroke-linejoin="round" />
</svg>
<span class="t" style="left:186.00px;top:133.08px;font-size:19.20px;font-weight:bold;transform-origin:0.00px 16.32px;transform:rotate(0.45deg) scaleX(0.9501);">CARROSSERIE</span>
<span class="t" style="left:327.70px;top:134.08px;font-size:19.20px;font-weight:bold;transform-origin:0.00px 16.32px;transform:rotate(0.45deg) scaleX(0.9795);">-</span>
<span class="t" style="left:341.80px;top:138.01px;font-size:15.40px;-webkit-text-stroke:0.6px #1a1a1a;transform-origin:0.00px 13.09px;transform:rotate(0.45deg) scaleX(1.1014);">ACCOUDOIRS de PORTES</span>
<span class="t" style="left:1336.50px;top:116.49px;font-size:56.60px;-webkit-text-stroke:0.6px #1a1a1a;transform-origin:0.00px 48.11px;transform:rotate(0.45deg) scaleX(0.9248);">89</span>
<span class="t" style="left:1425.00px;top:134.20px;font-size:36.00px;-webkit-text-stroke:0.5px #1a1a1a;transform-origin:0.00px 30.60px;transform:rotate(0.45deg) scaleX(0.8319);">Q01</span>
<span class="t" style="left:902.20px;top:194.29px;font-size:10.60px;font-weight:bold;transform-origin:0.00px 9.01px;transform:rotate(0.45deg) scaleX(1.1298);">030</span>
<span class="t" style="left:902.06px;top:212.70px;font-size:10.60px;font-weight:bold;transform-origin:0.00px 9.01px;transform:rotate(0.45deg) scaleX(1.1298);">040</span>
<span class="t" style="left:901.91px;top:231.11px;font-size:10.60px;font-weight:bold;transform-origin:0.00px 9.01px;transform:rotate(0.45deg) scaleX(1.1298);">050</span>
<span class="t" style="left:901.77px;top:249.52px;font-size:10.60px;font-weight:bold;transform-origin:0.00px 9.01px;transform:rotate(0.45deg) scaleX(1.1298);">060</span>
<span class="t" style="left:901.63px;top:267.93px;font-size:10.60px;font-weight:bold;transform-origin:0.00px 9.01px;transform:rotate(0.45deg) scaleX(1.1298);">070</span>
<span class="t" style="left:901.48px;top:286.34px;font-size:10.60px;font-weight:bold;transform-origin:0.00px 9.01px;transform:rotate(0.45deg) scaleX(1.1298);">080</span>
<span class="t" style="left:901.34px;top:304.75px;font-size:10.60px;font-weight:bold;transform-origin:0.00px 9.01px;transform:rotate(0.45deg) scaleX(1.1298);">090</span>
<span class="t" style="left:901.19px;top:323.16px;font-size:10.60px;font-weight:bold;transform-origin:0.00px 9.01px;transform:rotate(0.45deg) scaleX(1.1298);">100</span>
<span class="t" style="left:901.05px;top:341.57px;font-size:10.60px;font-weight:bold;transform-origin:0.00px 9.01px;transform:rotate(0.45deg) scaleX(1.1683);">110</span>
<span class="t" style="left:900.91px;top:359.98px;font-size:10.60px;font-weight:bold;transform-origin:0.00px 9.01px;transform:rotate(0.45deg) scaleX(1.1298);">120</span>
<span class="t" style="left:900.76px;top:378.39px;font-size:10.60px;font-weight:bold;transform-origin:0.00px 9.01px;transform:rotate(0.45deg) scaleX(1.1298);">130</span>
<span class="t" style="left:900.62px;top:396.80px;font-size:10.60px;font-weight:bold;transform-origin:0.00px 9.01px;transform:rotate(0.45deg) scaleX(1.1298);">140</span>
<span class="t" style="left:900.48px;top:415.21px;font-size:10.60px;font-weight:bold;transform-origin:0.00px 9.01px;transform:rotate(0.45deg) scaleX(1.1298);">150</span>
<span class="t" style="left:900.33px;top:433.62px;font-size:10.60px;font-weight:bold;transform-origin:0.00px 9.01px;transform:rotate(0.45deg) scaleX(1.1298);">160</span>
<span class="t" style="left:900.19px;top:452.03px;font-size:10.60px;font-weight:bold;transform-origin:0.00px 9.01px;transform:rotate(0.45deg) scaleX(1.1298);">170</span>
<span class="t" style="left:900.05px;top:470.44px;font-size:10.60px;font-weight:bold;transform-origin:0.00px 9.01px;transform:rotate(0.45deg) scaleX(1.1298);">180</span>
<span class="t" style="left:899.90px;top:488.85px;font-size:10.60px;font-weight:bold;transform-origin:0.00px 9.01px;transform:rotate(0.45deg) scaleX(1.1298);">190</span>
<span class="t" style="left:899.76px;top:507.26px;font-size:10.60px;font-weight:bold;transform-origin:0.00px 9.01px;transform:rotate(0.45deg) scaleX(1.1298);">200</span>
<span class="t" style="left:899.62px;top:525.67px;font-size:10.60px;font-weight:bold;transform-origin:0.00px 9.01px;transform:rotate(0.45deg) scaleX(1.1298);">210</span>
<span class="t" style="left:899.47px;top:544.08px;font-size:10.60px;font-weight:bold;transform-origin:0.00px 9.01px;transform:rotate(0.45deg) scaleX(1.1298);">220</span>
<span class="t" style="left:899.33px;top:562.49px;font-size:10.60px;font-weight:bold;transform-origin:0.00px 9.01px;transform:rotate(0.45deg) scaleX(1.1298);">230</span>
<span class="t" style="left:899.18px;top:580.90px;font-size:10.60px;font-weight:bold;transform-origin:0.00px 9.01px;transform:rotate(0.45deg) scaleX(1.1298);">240</span>
<span class="t" style="left:899.04px;top:599.31px;font-size:10.60px;font-weight:bold;transform-origin:0.00px 9.01px;transform:rotate(0.45deg) scaleX(1.1298);">250</span>
<span class="t" style="left:898.90px;top:617.72px;font-size:10.60px;font-weight:bold;transform-origin:0.00px 9.01px;transform:rotate(0.45deg) scaleX(1.1298);">260</span>
<span class="t" style="left:898.75px;top:636.13px;font-size:10.60px;font-weight:bold;transform-origin:0.00px 9.01px;transform:rotate(0.45deg) scaleX(1.1298);">270</span>
<span class="t" style="left:898.61px;top:654.54px;font-size:10.60px;font-weight:bold;transform-origin:0.00px 9.01px;transform:rotate(0.45deg) scaleX(1.1298);">280</span>
<span class="t" style="left:898.47px;top:672.95px;font-size:10.60px;font-weight:bold;transform-origin:0.00px 9.01px;transform:rotate(0.45deg) scaleX(1.1298);">290</span>
<span class="t" style="left:898.32px;top:691.36px;font-size:10.60px;font-weight:bold;transform-origin:0.00px 9.01px;transform:rotate(0.45deg) scaleX(1.1298);">300</span>
<span class="t" style="left:898.18px;top:709.77px;font-size:10.60px;font-weight:bold;transform-origin:0.00px 9.01px;transform:rotate(0.45deg) scaleX(1.1298);">310</span>
<span class="t" style="left:898.04px;top:728.18px;font-size:10.60px;font-weight:bold;transform-origin:0.00px 9.01px;transform:rotate(0.45deg) scaleX(1.1298);">320</span>
<span class="t" style="left:897.89px;top:746.59px;font-size:10.60px;font-weight:bold;transform-origin:0.00px 9.01px;transform:rotate(0.45deg) scaleX(1.1298);">330</span>
<span class="t" style="left:897.67px;top:775.39px;font-size:10.60px;font-weight:bold;transform-origin:0.00px 9.01px;transform:rotate(0.45deg) scaleX(1.1298);">340</span>
<span class="t" style="left:897.52px;top:793.89px;font-size:10.60px;font-weight:bold;transform-origin:0.00px 9.01px;transform:rotate(0.45deg) scaleX(1.1298);">350</span>
<span class="t" style="left:897.38px;top:812.39px;font-size:10.60px;font-weight:bold;transform-origin:0.00px 9.01px;transform:rotate(0.45deg) scaleX(1.1298);">360</span>
<span class="t" style="left:897.23px;top:830.89px;font-size:10.60px;font-weight:bold;transform-origin:0.00px 9.01px;transform:rotate(0.45deg) scaleX(1.1298);">370</span>
<span class="t" style="left:897.09px;top:849.39px;font-size:10.60px;font-weight:bold;transform-origin:0.00px 9.01px;transform:rotate(0.45deg) scaleX(1.1298);">380</span>
<span class="t" style="left:896.95px;top:867.89px;font-size:10.60px;font-weight:bold;transform-origin:0.00px 9.01px;transform:rotate(0.45deg) scaleX(1.1298);">390</span>
<span class="t" style="left:896.80px;top:886.39px;font-size:10.60px;font-weight:bold;transform-origin:0.00px 9.01px;transform:rotate(0.45deg) scaleX(1.1298);">400</span>
<span class="t" style="left:896.66px;top:904.89px;font-size:10.60px;font-weight:bold;transform-origin:0.00px 9.01px;transform:rotate(0.45deg) scaleX(1.1298);">410</span>
<span class="t" style="left:791.80px;top:980.57px;font-size:11.80px;letter-spacing:2.106px;-webkit-text-stroke:0.6px #1a1a1a;transform-origin:0.00px 10.03px;transform:rotate(0.45deg);">8/79 604 89 Q01</span>
<span class="t" style="left:178.10px;top:1090.55px;font-size:33.00px;-webkit-text-stroke:0.4px #1a1a1a;transform-origin:0.00px 28.05px;transform:rotate(0.45deg) scaleX(0.9672);">604</span>
<span class="t" style="left:233.30px;top:1107.51px;font-size:15.40px;transform-origin:0.00px 13.09px;transform:rotate(0.45deg) scaleX(1.0113);">(0)</span>
<span class="t" style="left:260.60px;top:1105.87px;font-size:15.80px;-webkit-text-stroke:0.25px #1a1a1a;transform-origin:0.00px 13.43px;transform:rotate(0.45deg) scaleX(1.1220);">- 03/88 Printed in France</span>
<span class="t" style="left:1049.70px;top:262.54px;font-size:16.30px;-webkit-text-stroke:0.4px #1a1a1a;transform-origin:0.00px 13.86px;transform:rotate(0.45deg) scaleX(1.0818);">A -</span>
<span class="t" style="left:1126.60px;top:263.54px;font-size:16.30px;-webkit-text-stroke:0.4px #1a1a1a;transform-origin:0.00px 13.86px;transform:rotate(0.45deg) scaleX(1.0442);">MOD 78</span>
<span class="t" style="left:1475.80px;top:265.34px;font-size:16.30px;-webkit-text-stroke:0.4px #1a1a1a;transform-origin:0.00px 13.86px;transform:rotate(0.45deg) scaleX(0.9706);">A</span>
<span class="t" style="left:1050.00px;top:281.14px;font-size:16.30px;-webkit-text-stroke:0.4px #1a1a1a;transform-origin:0.00px 13.86px;transform:rotate(0.45deg) scaleX(1.0209);">B -</span>
<span class="t" style="left:1126.60px;top:281.94px;font-size:16.30px;-webkit-text-stroke:0.4px #1a1a1a;transform-origin:0.00px 13.86px;transform:rotate(0.45deg) scaleX(1.0442);">MOD 78</span>
<span class="t" style="left:1243.70px;top:282.64px;font-size:16.30px;-webkit-text-stroke:0.4px #1a1a1a;transform-origin:0.00px 13.86px;transform:rotate(0.45deg) scaleX(1.0423);">6.585.550</span>
<span class="t" style="left:1073.70px;top:299.54px;font-size:16.30px;-webkit-text-stroke:0.4px #1a1a1a;transform-origin:0.00px 13.86px;transform:rotate(0.45deg) scaleX(1.0890);">montage panaché</span>
<span class="t" style="left:1271.80px;top:300.94px;font-size:16.30px;-webkit-text-stroke:0.4px #1a1a1a;transform-origin:0.00px 13.86px;transform:rotate(0.45deg) scaleX(1.0154);">6.580.575,</span>
<span class="t" style="left:1112.50px;top:318.14px;font-size:16.30px;-webkit-text-stroke:0.4px #1a1a1a;transform-origin:0.00px 13.86px;transform:rotate(0.45deg) scaleX(1.0742);">page suivante</span>
<span class="t" style="left:1503.80px;top:320.75px;font-size:16.30px;-webkit-text-stroke:0.4px #1a1a1a;transform-origin:0.00px 13.86px;transform:rotate(0.45deg) scaleX(0.8487);">B</span>
<span class="t" style="left:976.70px;top:447.75px;font-size:16.30px;-webkit-text-stroke:0.4px #1a1a1a;transform-origin:0.00px 13.86px;transform:rotate(0.45deg) scaleX(1.0318);">8962.30</span>
<span class="t" style="left:1047.80px;top:448.34px;font-size:16.30px;-webkit-text-stroke:0.4px #1a1a1a;transform-origin:0.00px 13.86px;transform:rotate(0.45deg) scaleX(1.0712);">EQUERRE fixation</span>
<span class="t" style="left:1474.50px;top:450.84px;font-size:16.30px;-webkit-text-stroke:0.4px #1a1a1a;transform-origin:0.00px 13.86px;transform:rotate(0.45deg) scaleX(0.9396);">4</span>
<span class="t" style="left:1501.30px;top:451.04px;font-size:16.30px;-webkit-text-stroke:0.4px #1a1a1a;transform-origin:0.00px 13.86px;transform:rotate(0.45deg) scaleX(0.9396);">4</span>
<span class="t" style="left:1046.30px;top:541.54px;font-size:16.30px;-webkit-text-stroke:0.4px #1a1a1a;transform-origin:0.00px 13.86px;transform:rotate(0.45deg) scaleX(1.0392);">ACCOUDOIR</span>
<span class="t" style="left:1193.60px;top:542.54px;font-size:16.30px;-webkit-text-stroke:0.4px #1a1a1a;transform-origin:0.00px 13.86px;transform:rotate(0.45deg);">:</span>
<span class="t" style="left:975.30px;top:560.54px;font-size:16.30px;-webkit-text-stroke:0.4px #1a1a1a;transform-origin:0.00px 13.86px;transform:rotate(0.45deg) scaleX(1.0284);">8966.55</span>
<span class="t" style="left:1099.70px;top:561.54px;font-size:16.30px;-webkit-text-stroke:0.4px #1a1a1a;transform-origin:0.00px 13.86px;transform:rotate(0.45deg) scaleX(1.0507);">noir</span>
<span class="t" style="left:1153.00px;top:561.94px;font-size:16.30px;-webkit-text-stroke:0.4px #1a1a1a;transform-origin:0.00px 13.86px;transform:rotate(0.45deg) scaleX(1.0119);">6000</span>
<span class="t" style="left:1470.60px;top:563.94px;font-size:16.30px;-webkit-text-stroke:0.4px #1a1a1a;transform-origin:0.00px 13.86px;transform:rotate(0.45deg);">1</span>
<span class="t" style="left:975.15px;top:578.76px;font-size:16.30px;-webkit-text-stroke:0.4px #1a1a1a;transform-origin:0.00px 13.86px;transform:rotate(0.45deg) scaleX(1.0284);">8966.56</span>
<span class="t" style="left:1099.55px;top:579.76px;font-size:16.30px;-webkit-text-stroke:0.4px #1a1a1a;transform-origin:0.00px 13.86px;transform:rotate(0.45deg) scaleX(1.0507);">noir</span>
<span class="t" style="left:1152.85px;top:580.16px;font-size:16.30px;-webkit-text-stroke:0.4px #1a1a1a;transform-origin:0.00px 13.86px;transform:rotate(0.45deg) scaleX(1.0119);">6000</span>
<span class="t" style="left:1470.45px;top:582.16px;font-size:16.30px;-webkit-text-stroke:0.4px #1a1a1a;transform-origin:0.00px 13.86px;transform:rotate(0.45deg);">1</span>
<span class="t" style="left:974.99px;top:596.98px;font-size:16.30px;-webkit-text-stroke:0.4px #1a1a1a;transform-origin:0.00px 13.86px;transform:rotate(0.45deg) scaleX(1.0284);">8966.63</span>
<span class="t" style="left:1099.39px;top:597.98px;font-size:16.30px;-webkit-text-stroke:0.4px #1a1a1a;transform-origin:0.00px 13.86px;transform:rotate(0.45deg) scaleX(1.0644);">chamois 7348</span>
<span class="t" style="left:1498.59px;top:600.38px;font-size:16.30px;-webkit-text-stroke:0.4px #1a1a1a;transform-origin:0.00px 13.86px;transform:rotate(0.45deg);">1</span>
<span class="t" style="left:974.84px;top:615.20px;font-size:16.30px;-webkit-text-stroke:0.4px #1a1a1a;transform-origin:0.00px 13.86px;transform:rotate(0.45deg) scaleX(1.0284);">8966.64</span>
<span class="t" style="left:1099.24px;top:616.20px;font-size:16.30px;-webkit-text-stroke:0.4px #1a1a1a;transform-origin:0.00px 13.86px;transform:rotate(0.45deg) scaleX(1.0644);">chamois 7348</span>
<span class="t" style="left:1498.44px;top:618.60px;font-size:16.30px;-webkit-text-stroke:0.4px #1a1a1a;transform-origin:0.00px 13.86px;transform:rotate(0.45deg);">1</span>
<span class="t" style="left:974.68px;top:633.42px;font-size:16.30px;-webkit-text-stroke:0.4px #1a1a1a;transform-origin:0.00px 13.86px;transform:rotate(0.45deg) scaleX(1.0284);">8966.67</span>
<span class="t" style="left:1099.08px;top:634.42px;font-size:16.30px;-webkit-text-stroke:0.4px #1a1a1a;transform-origin:0.00px 13.86px;transform:rotate(0.45deg) scaleX(1.0130);">miel</span>
<span class="t" style="left:1154.78px;top:634.82px;font-size:16.30px;-webkit-text-stroke:0.4px #1a1a1a;transform-origin:0.00px 13.86px;transform:rotate(0.45deg);">7349</span>
<span class="t" style="left:1498.28px;top:636.82px;font-size:16.30px;-webkit-text-stroke:0.4px #1a1a1a;transform-origin:0.00px 13.86px;transform:rotate(0.45deg);">1</span>
<span class="t" style="left:974.53px;top:651.64px;font-size:16.30px;-webkit-text-stroke:0.4px #1a1a1a;transform-origin:0.00px 13.86px;transform:rotate(0.45deg) scaleX(1.0284);">8966.68</span>
<span class="t" style="left:1098.93px;top:652.64px;font-size:16.30px;-webkit-text-stroke:0.4px #1a1a1a;transform-origin:0.00px 13.86px;transform:rotate(0.45deg) scaleX(1.0130);">miel</span>
<span class="t" style="left:1154.63px;top:653.04px;font-size:16.30px;-webkit-text-stroke:0.4px #1a1a1a;transform-origin:0.00px 13.86px;transform:rotate(0.45deg);">7349</span>
<span class="t" style="left:1498.13px;top:655.04px;font-size:16.30px;-webkit-text-stroke:0.4px #1a1a1a;transform-origin:0.00px 13.86px;transform:rotate(0.45deg);">1</span>
<span class="t" style="left:1044.30px;top:742.04px;font-size:16.30px;-webkit-text-stroke:0.4px #1a1a1a;transform-origin:0.00px 13.86px;transform:rotate(0.45deg) scaleX(1.0392);">ACCOUDOIR</span>
<span class="t" style="left:1191.40px;top:743.14px;font-size:16.30px;-webkit-text-stroke:0.4px #1a1a1a;transform-origin:0.00px 13.86px;transform:rotate(0.45deg);">:</span>
<span class="t" style="left:1011.50px;top:770.85px;font-size:16.30px;-webkit-text-stroke:0.4px #1a1a1a;transform-origin:0.00px 13.86px;transform:rotate(0.45deg) scaleX(1.1211);">Applications</span>
<span class="t" style="left:1207.40px;top:808.54px;font-size:16.30px;-webkit-text-stroke:0.4px #1a1a1a;transform-origin:0.00px 13.86px;transform:rotate(0.45deg) scaleX(1.1315);">noir</span>
<span class="t" style="left:1206.70px;top:827.04px;font-size:16.30px;-webkit-text-stroke:0.4px #1a1a1a;transform-origin:0.00px 13.86px;transform:rotate(0.45deg) scaleX(1.0726);">6000</span>
<span class="t" style="left:1189.00px;top:864.04px;font-size:16.30px;-webkit-text-stroke:0.4px #1a1a1a;transform-origin:0.00px 13.86px;transform:rotate(0.45deg) scaleX(1.1068);">chamois</span>
<span class="t" style="left:1207.00px;top:900.54px;font-size:16.30px;-webkit-text-stroke:0.4px #1a1a1a;transform-origin:0.00px 13.86px;transform:rotate(0.45deg) scaleX(1.0832);">miel</span>
<span class="t" style="left:1285.00px;top:827.54px;font-size:16.30px;-webkit-text-stroke:0.4px #1a1a1a;transform-origin:0.00px 13.86px;transform:rotate(0.45deg);">8966.61</span>
<span class="t" style="left:1383.00px;top:828.14px;font-size:16.30px;-webkit-text-stroke:0.4px #1a1a1a;transform-origin:0.00px 13.86px;transform:rotate(0.45deg);">8966.62</span>
<span class="t" style="left:1284.70px;top:864.54px;font-size:16.30px;-webkit-text-stroke:0.4px #1a1a1a;transform-origin:0.00px 13.86px;transform:rotate(0.45deg);">8966.65</span>
<span class="t" style="left:1382.70px;top:865.14px;font-size:16.30px;-webkit-text-stroke:0.4px #1a1a1a;transform-origin:0.00px 13.86px;transform:rotate(0.45deg);">8966.66</span>
<span class="t" style="left:1284.40px;top:901.04px;font-size:16.30px;-webkit-text-stroke:0.4px #1a1a1a;transform-origin:0.00px 13.86px;transform:rotate(0.45deg);">8966.69</span>
<span class="t" style="left:1382.40px;top:901.64px;font-size:16.30px;-webkit-text-stroke:0.4px #1a1a1a;transform-origin:0.00px 13.86px;transform:rotate(0.45deg);">8966.70</span>
<span class="t" style="left:1470.40px;top:827.94px;font-size:16.30px;-webkit-text-stroke:0.4px #1a1a1a;transform-origin:0.00px 13.86px;transform:rotate(0.45deg);">1</span>
<span class="t" style="left:1498.80px;top:864.94px;font-size:16.30px;-webkit-text-stroke:0.4px #1a1a1a;transform-origin:0.00px 13.86px;transform:rotate(0.45deg);">1</span>
<span class="t" style="left:1498.60px;top:901.64px;font-size:16.30px;-webkit-text-stroke:0.4px #1a1a1a;transform-origin:0.00px 13.86px;transform:rotate(0.45deg);">1</span>
<span class="t" style="left:214.90px;top:1215.62px;font-size:23.00px;font-family:'Liberation Mono',monospace;-webkit-text-stroke:0.45px #1a1a1a;transform-origin:0.00px 17.48px;transform:rotate(0.65deg) scaleX(0.8360);">CARROSSERIE</span>
<span class="t" style="left:378.90px;top:1222.55px;font-size:17.70px;font-family:'Liberation Mono',monospace;-webkit-text-stroke:0.45px #1a1a1a;transform-origin:0.00px 13.45px;transform:rotate(0.65deg) scaleX(0.8912);">ACCOUDOIRS de PORTES</span>
<span class="t" style="left:580.90px;top:1225.28px;font-size:17.00px;font-family:'Liberation Mono',monospace;font-style:italic;-webkit-text-stroke:0.45px #1a1a1a;transform-origin:0.00px 12.92px;transform:rotate(0.65deg) scaleX(0.8765);">suite</span>
<span class="t" style="left:1473.90px;top:1234.28px;font-size:22.00px;font-family:'Liberation Mono',monospace;-webkit-text-stroke:0.45px #1a1a1a;transform-origin:0.00px 16.72px;transform:rotate(0.65deg) scaleX(0.8548);">89 R01</span>
<span class="t" style="left:1183.30px;top:1419.48px;font-size:17.00px;font-family:'Liberation Mono',monospace;font-style:italic;-webkit-text-stroke:0.45px #1a1a1a;transform-origin:0.00px 12.92px;transform:rotate(0.65deg) scaleX(0.9499);">6.585.551</span>
<span class="t" style="left:964.80px;top:1575.32px;font-size:17.60px;font-family:'Liberation Mono',monospace;-webkit-text-stroke:0.65px #1a1a1a;transform-origin:0.00px 13.38px;transform:rotate(0.65deg) scaleX(0.9225);">8962.30 EQUERRE fixation</span>
<span class="t" style="left:1461.40px;top:1580.02px;font-size:17.60px;font-family:'Liberation Mono',monospace;-webkit-text-stroke:0.65px #1a1a1a;transform-origin:0.00px 13.38px;transform:rotate(0.65deg) scaleX(0.7860);">4</span>
<span class="t" style="left:1041.70px;top:1731.62px;font-size:17.60px;font-family:'Liberation Mono',monospace;-webkit-text-stroke:0.65px #1a1a1a;transform-origin:0.00px 13.38px;transform:rotate(0.65deg) scaleX(0.9039);">ACCOUDOIR :</span>
<span class="t" style="left:1090.50px;top:1769.82px;font-size:17.60px;font-family:'Liberation Mono',monospace;-webkit-text-stroke:0.45px #1a1a1a;transform-origin:0.00px 13.38px;transform:rotate(0.65deg) scaleX(0.8973);">bleu</span>
<span class="t" style="left:1090.50px;top:1787.42px;font-size:17.60px;font-family:'Liberation Mono',monospace;-webkit-text-stroke:0.45px #1a1a1a;transform-origin:0.00px 13.38px;transform:rotate(0.65deg) scaleX(0.8973);">7380</span>
<span class="t" style="left:1173.00px;top:1770.92px;font-size:17.60px;font-family:'Liberation Mono',monospace;-webkit-text-stroke:0.45px #1a1a1a;transform-origin:0.00px 13.38px;transform:rotate(0.65deg) scaleX(0.9172);">chamois</span>
<span class="t" style="left:1188.00px;top:1788.42px;font-size:17.60px;font-family:'Liberation Mono',monospace;-webkit-text-stroke:0.45px #1a1a1a;transform-origin:0.00px 13.38px;transform:rotate(0.65deg) scaleX(0.9186);">7348</span>
<span class="t" style="left:1266.40px;top:1772.62px;font-size:17.60px;font-family:'Liberation Mono',monospace;-webkit-text-stroke:0.45px #1a1a1a;transform-origin:0.00px 13.38px;transform:rotate(0.65deg) scaleX(0.8819);">noisette</span>
<span class="t" style="left:1284.70px;top:1790.22px;font-size:17.60px;font-family:'Liberation Mono',monospace;-webkit-text-stroke:0.45px #1a1a1a;transform-origin:0.00px 13.38px;transform:rotate(0.65deg) scaleX(0.8736);">7362</span>
<span class="t" style="left:1379.50px;top:1773.82px;font-size:17.60px;font-family:'Liberation Mono',monospace;-webkit-text-stroke:0.45px #1a1a1a;transform-origin:0.00px 13.38px;transform:rotate(0.65deg) scaleX(0.8736);">gris</span>
<span class="t" style="left:1378.90px;top:1792.02px;font-size:17.60px;font-family:'Liberation Mono',monospace;-webkit-text-stroke:0.45px #1a1a1a;transform-origin:0.00px 13.38px;transform:rotate(0.65deg) scaleX(0.8878);">3375</span>
<span class="t" style="left:1298.20px;top:1808.52px;font-size:17.60px;font-family:'Liberation Mono',monospace;-webkit-text-stroke:0.45px #1a1a1a;transform-origin:0.00px 13.38px;transform:rotate(0.65deg) scaleX(0.8617);">MOD81</span>
<span class="t" style="left:1393.00px;top:1810.22px;font-size:17.60px;font-family:'Liberation Mono',monospace;-webkit-text-stroke:0.45px #1a1a1a;transform-origin:0.00px 13.38px;transform:rotate(0.65deg) scaleX(0.8750);">MOD81</span>
<span class="t" style="left:1079.30px;top:1841.28px;font-size:17.40px;font-family:'Liberation Mono',monospace;-webkit-text-stroke:0.65px #1a1a1a;transform-origin:0.00px 13.22px;transform:rotate(0.65deg) scaleX(0.9127);">8967.65</span>
<span class="t" style="left:1171.60px;top:1842.63px;font-size:17.40px;font-family:'Liberation Mono',monospace;-webkit-text-stroke:0.65px #1a1a1a;transform-origin:0.00px 13.22px;transform:rotate(0.65deg) scaleX(0.9373);">8966.63</span>
<span class="t" style="left:1269.60px;top:1844.07px;font-size:17.40px;font-family:'Liberation Mono',monospace;-webkit-text-stroke:0.65px #1a1a1a;transform-origin:0.00px 13.22px;transform:rotate(0.65deg) scaleX(0.9031);">8967.16</span>
<span class="t" style="left:1364.40px;top:1845.47px;font-size:17.40px;font-family:'Liberation Mono',monospace;-webkit-text-stroke:0.65px #1a1a1a;transform-origin:0.00px 13.22px;transform:rotate(0.65deg) scaleX(0.9045);">8967.18</span>
<span class="t" style="left:1457.50px;top:1846.28px;font-size:17.40px;font-family:'Liberation Mono',monospace;-webkit-text-stroke:0.65px #1a1a1a;transform-origin:0.00px 13.22px;transform:rotate(0.65deg);">1</span>
<span class="t" style="left:1078.91px;top:1876.38px;font-size:17.40px;font-family:'Liberation Mono',monospace;-webkit-text-stroke:0.65px #1a1a1a;transform-origin:0.00px 13.22px;transform:rotate(0.65deg) scaleX(0.9127);">8967.66</span>
<span class="t" style="left:1171.21px;top:1877.73px;font-size:17.40px;font-family:'Liberation Mono',monospace;-webkit-text-stroke:0.65px #1a1a1a;transform-origin:0.00px 13.22px;transform:rotate(0.65deg) scaleX(0.9373);">8966.64</span>
<span class="t" style="left:1269.21px;top:1879.17px;font-size:17.40px;font-family:'Liberation Mono',monospace;-webkit-text-stroke:0.65px #1a1a1a;transform-origin:0.00px 13.22px;transform:rotate(0.65deg) scaleX(0.9031);">8967.17</span>
<span class="t" style="left:1364.01px;top:1880.57px;font-size:17.40px;font-family:'Liberation Mono',monospace;-webkit-text-stroke:0.65px #1a1a1a;transform-origin:0.00px 13.22px;transform:rotate(0.65deg) scaleX(0.9045);">8967.19</span>
<span class="t" style="left:1457.11px;top:1881.38px;font-size:17.40px;font-family:'Liberation Mono',monospace;-webkit-text-stroke:0.65px #1a1a1a;transform-origin:0.00px 13.22px;transform:rotate(0.65deg);">1</span>
<span class="t" style="left:1078.53px;top:1911.58px;font-size:17.40px;font-family:'Liberation Mono',monospace;-webkit-text-stroke:0.65px #1a1a1a;transform-origin:0.00px 13.22px;transform:rotate(0.65deg) scaleX(0.9127);">8967.67</span>
<span class="t" style="left:1170.83px;top:1912.93px;font-size:17.40px;font-family:'Liberation Mono',monospace;-webkit-text-stroke:0.65px #1a1a1a;transform-origin:0.00px 13.22px;transform:rotate(0.65deg) scaleX(0.9373);">8966.65</span>
<span class="t" style="left:1268.83px;top:1914.37px;font-size:17.40px;font-family:'Liberation Mono',monospace;-webkit-text-stroke:0.65px #1a1a1a;transform-origin:0.00px 13.22px;transform:rotate(0.65deg) scaleX(0.9031);">8967.20</span>
<span class="t" style="left:1363.63px;top:1915.77px;font-size:17.40px;font-family:'Liberation Mono',monospace;-webkit-text-stroke:0.65px #1a1a1a;transform-origin:0.00px 13.22px;transform:rotate(0.65deg) scaleX(0.9045);">8967.22</span>
<span class="t" style="left:1456.73px;top:1916.58px;font-size:17.40px;font-family:'Liberation Mono',monospace;-webkit-text-stroke:0.65px #1a1a1a;transform-origin:0.00px 13.22px;transform:rotate(0.65deg);">1</span>
<span class="t" style="left:1078.14px;top:1946.68px;font-size:17.40px;font-family:'Liberation Mono',monospace;-webkit-text-stroke:0.65px #1a1a1a;transform-origin:0.00px 13.22px;transform:rotate(0.65deg) scaleX(0.9127);">8967.68</span>
<span class="t" style="left:1170.44px;top:1948.03px;font-size:17.40px;font-family:'Liberation Mono',monospace;-webkit-text-stroke:0.65px #1a1a1a;transform-origin:0.00px 13.22px;transform:rotate(0.65deg) scaleX(0.9373);">8966.66</span>
<span class="t" style="left:1268.44px;top:1949.47px;font-size:17.40px;font-family:'Liberation Mono',monospace;-webkit-text-stroke:0.65px #1a1a1a;transform-origin:0.00px 13.22px;transform:rotate(0.65deg) scaleX(0.9031);">8967.21</span>
<span class="t" style="left:1363.24px;top:1950.87px;font-size:17.40px;font-family:'Liberation Mono',monospace;-webkit-text-stroke:0.65px #1a1a1a;transform-origin:0.00px 13.22px;transform:rotate(0.65deg) scaleX(0.9045);">8967.23</span>
<span class="t" style="left:1456.34px;top:1951.68px;font-size:17.40px;font-family:'Liberation Mono',monospace;-webkit-text-stroke:0.65px #1a1a1a;transform-origin:0.00px 13.22px;transform:rotate(0.65deg);">1</span>
<span class="t" style="left:958.80px;top:2039.08px;font-size:17.40px;font-family:'Liberation Mono',monospace;-webkit-text-stroke:0.65px #1a1a1a;transform-origin:0.00px 13.22px;transform:rotate(0.65deg) scaleX(0.9271);">8967.87 ENJOLIVEUR de poignée d'accoudoir</span>
<span class="t" style="left:1455.00px;top:2044.98px;font-size:17.40px;font-family:'Liberation Mono',monospace;-webkit-text-stroke:0.65px #1a1a1a;transform-origin:0.00px 13.22px;transform:rotate(0.65deg) scaleX(0.7663);">4</span>
<span class="t" style="left:917.4px;top:2139.9px;font-size:13.4px;-webkit-text-stroke:0.5px #202020;transform-origin:0 0;transform:rotate(-89.3deg) scaleX(1.2554) translate(0,-11.39px);">6/81 604 89 R01</span>
<span class="t" style="left:207.60px;top:2200.91px;font-size:15.40px;letter-spacing:-0.059px;-webkit-text-stroke:0.3px #1a1a1a;transform-origin:0.00px 13.09px;transform:rotate(0.65deg);">604</span>
<span class="t" style="left:254.50px;top:2201.41px;font-size:15.40px;letter-spacing:1.556px;-webkit-text-stroke:0.3px #1a1a1a;transform-origin:0.00px 13.09px;transform:rotate(0.65deg);">06/81</span>
<span class="t" style="left:312.50px;top:2204.21px;font-size:14.20px;font-family:'Liberation Mono',monospace;-webkit-text-stroke:0.1px #1a1a1a;transform-origin:0.00px 10.79px;transform:rotate(0.65deg) scaleX(0.9880);">Printed in France</span>
<span class="t" style="left:145.60px;top:477.53px;font-size:16.20px;letter-spacing:0.790px;-webkit-text-stroke:0.45px #1a1a1a;transform-origin:0.00px 13.77px;transform:rotate(0.3deg);">6941 61</span>
<span class="t" style="left:236.30px;top:514.43px;font-size:16.20px;letter-spacing:1.323px;-webkit-text-stroke:0.45px #1a1a1a;transform-origin:0.00px 13.77px;transform:rotate(0.3deg);">8962.30</span>
<span class="t" style="left:236.30px;top:533.43px;font-size:16.20px;letter-spacing:1.323px;-webkit-text-stroke:0.45px #1a1a1a;transform-origin:0.00px 13.77px;transform:rotate(0.3deg);">6973.04</span>
<span class="t" style="left:383.30px;top:532.83px;font-size:16.20px;letter-spacing:1.073px;-webkit-text-stroke:0.45px #1a1a1a;transform-origin:0.00px 13.77px;transform:rotate(0.3deg);">6987.44</span>
<span class="t" style="left:111.80px;top:589.63px;font-size:16.20px;letter-spacing:1.006px;-webkit-text-stroke:0.45px #1a1a1a;transform-origin:0.00px 13.77px;transform:rotate(0.3deg);">6902.56</span>
<span class="t" style="left:111.80px;top:613.53px;font-size:16.20px;letter-spacing:1.006px;-webkit-text-stroke:0.45px #1a1a1a;transform-origin:0.00px 13.77px;transform:rotate(0.3deg);">6912.22</span>
<span class="t" style="left:111.80px;top:632.73px;font-size:16.20px;letter-spacing:1.006px;-webkit-text-stroke:0.45px #1a1a1a;transform-origin:0.00px 13.77px;transform:rotate(0.3deg);">6920.22</span>
<span class="t" style="left:146.60px;top:658.03px;font-size:16.20px;letter-spacing:1.685px;-webkit-text-stroke:0.45px #1a1a1a;transform-origin:0.00px 13.77px;transform:rotate(0.3deg);">8966</span>
<span class="t" style="left:146.60px;top:677.33px;font-size:16.20px;letter-spacing:1.123px;-webkit-text-stroke:0.45px #1a1a1a;transform-origin:0.00px 13.77px;transform:rotate(0.3deg);">8966.64</span>
<span class="t" style="left:146.60px;top:697.43px;font-size:16.20px;letter-spacing:1.685px;-webkit-text-stroke:0.45px #1a1a1a;transform-origin:0.00px 13.77px;transform:rotate(0.3deg);">8966</span>
<span class="t" style="left:364.90px;top:734.33px;font-size:16.20px;letter-spacing:1.340px;-webkit-text-stroke:0.45px #1a1a1a;transform-origin:0.00px 13.77px;transform:rotate(0.3deg);">6912.46</span>
<span class="t" style="left:729.40px;top:545.63px;font-size:16.20px;letter-spacing:1.606px;-webkit-text-stroke:0.45px #1a1a1a;transform-origin:0.00px 13.77px;transform:rotate(0.3deg);">8966.66</span>
<span class="t" style="left:729.70px;top:565.63px;font-size:16.20px;letter-spacing:1.552px;-webkit-text-stroke:0.45px #1a1a1a;transform-origin:0.00px 13.77px;transform:rotate(0.3deg);">8966</span>
<span class="t" style="left:729.70px;top:586.63px;font-size:16.20px;letter-spacing:1.552px;-webkit-text-stroke:0.45px #1a1a1a;transform-origin:0.00px 13.77px;transform:rotate(0.3deg);">8966</span>
<span class="t" style="left:242.50px;top:1667.37px;font-size:15.80px;letter-spacing:2.214px;-webkit-text-stroke:0.45px #1a1a1a;transform-origin:0.00px 13.43px;transform:rotate(0.5deg);">6941.61</span>
<span class="t" style="left:242.50px;top:1687.27px;font-size:15.80px;letter-spacing:2.564px;-webkit-text-stroke:0.45px #1a1a1a;transform-origin:0.00px 13.43px;transform:rotate(0.5deg);">8962.30</span>
<span class="t" style="left:242.50px;top:1706.97px;font-size:15.80px;letter-spacing:2.430px;-webkit-text-stroke:0.45px #1a1a1a;transform-origin:0.00px 13.43px;transform:rotate(0.5deg);">6902.56</span>
<span class="t" style="left:339.90px;top:1735.17px;font-size:15.80px;letter-spacing:2.264px;-webkit-text-stroke:0.45px #1a1a1a;transform-origin:0.00px 13.43px;transform:rotate(1.6deg);">6987.44</span>
<span class="t" style="left:95.00px;top:1786.47px;font-size:15.80px;letter-spacing:1.997px;-webkit-text-stroke:0.45px #1a1a1a;transform-origin:0.00px 13.43px;transform:rotate(0.5deg);">6920.22</span>
<span class="t" style="left:95.00px;top:1826.57px;font-size:15.80px;letter-spacing:2.131px;-webkit-text-stroke:0.45px #1a1a1a;transform-origin:0.00px 13.43px;transform:rotate(0.5deg);">6973.04</span>
<span class="t" style="left:443.60px;top:1946.17px;font-size:15.80px;letter-spacing:1.997px;-webkit-text-stroke:0.45px #1a1a1a;transform-origin:0.00px 13.43px;transform:rotate(0.5deg);">6912.46</span>
<span class="t" style="left:346.90px;top:1601.07px;font-size:15.80px;letter-spacing:1.497px;-webkit-text-stroke:0.45px #1a1a1a;transform-origin:0.00px 13.43px;transform:rotate(0.5deg);">8967.87</span>
<span class="t" style="left:681.30px;top:1525.97px;font-size:15.80px;letter-spacing:3.114px;-webkit-text-stroke:0.45px #1a1a1a;transform-origin:0.00px 13.43px;transform:rotate(0.5deg);">8966.66</span>
<span class="t" style="left:680.70px;top:1545.67px;font-size:15.80px;letter-spacing:3.048px;-webkit-text-stroke:0.45px #1a1a1a;transform-origin:0.00px 13.43px;transform:rotate(0.5deg);">8967</span>
<span class="t" style="left:680.00px;top:1566.67px;font-size:15.80px;letter-spacing:3.231px;-webkit-text-stroke:0.45px #1a1a1a;transform-origin:0.00px 13.43px;transform:rotate(0.5deg);">8966.65</span>
<span class="t" style="left:680.00px;top:1586.37px;font-size:15.80px;letter-spacing:3.048px;-webkit-text-stroke:0.45px #1a1a1a;transform-origin:0.00px 13.43px;transform:rotate(0.5deg);">8967</span>
<span class="t" style="left:529.80px;top:1846.47px;font-size:15.80px;letter-spacing:2.431px;-webkit-text-stroke:0.45px #1a1a1a;transform-origin:0.00px 13.43px;transform:rotate(0.5deg);">8966 64</span>
<span class="t" style="left:529.80px;top:1866.47px;font-size:15.80px;letter-spacing:1.415px;-webkit-text-stroke:0.45px #1a1a1a;transform-origin:0.00px 13.43px;transform:rotate(0.5deg);">8967</span>
<span class="t" style="left:529.80px;top:1886.37px;font-size:15.80px;letter-spacing:2.431px;-webkit-text-stroke:0.45px #1a1a1a;transform-origin:0.00px 13.43px;transform:rotate(0.5deg);">8966 63</span>
<span class="t" style="left:529.80px;top:1907.07px;font-size:15.80px;letter-spacing:1.415px;-webkit-text-stroke:0.45px #1a1a1a;transform-origin:0.00px 13.43px;transform:rotate(0.5deg);">8967</span>
</body></html>
